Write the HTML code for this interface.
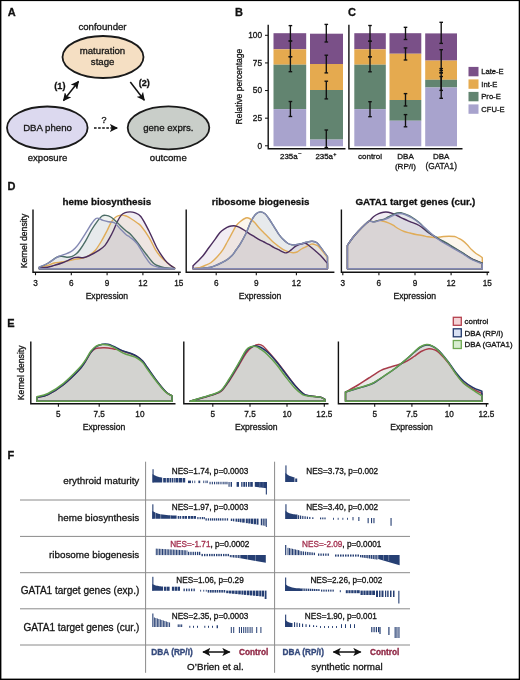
<!DOCTYPE html>
<html><head><meta charset="utf-8"><style>
html,body{margin:0;padding:0;background:#fff;}
svg{display:block;font-family:"Liberation Sans", sans-serif;filter:blur(0.3px);}
</style></head><body>
<svg width="520" height="680" viewBox="0 0 520 680">
<rect width="520" height="680" fill="#fff"/>
<rect x="0" y="0" width="1.4" height="680" fill="#000"/><rect x="0" y="0" width="520" height="1.1" fill="#000"/><rect x="518.7" y="0" width="1.3" height="680" fill="#000"/><rect x="0" y="678.6" width="520" height="1.4" fill="#000"/>
<text x="7.80" y="15.80" font-size="11" text-anchor="start" font-weight="bold" fill="#111" stroke="#111" stroke-width="0.3" >A</text>
<text x="102.50" y="29.80" font-size="9.65" text-anchor="middle" fill="#151515" stroke="#151515" stroke-width="0.3" >confounder</text>
<ellipse cx="103" cy="57" rx="40.5" ry="21" fill="#f5dfc3" stroke="#1a1a1a" stroke-width="1.8"/>
<text x="102.50" y="54.00" font-size="9.65" text-anchor="middle" fill="#151515" stroke="#151515" stroke-width="0.3" >maturation</text>
<text x="102.60" y="65.20" font-size="9.65" text-anchor="middle" fill="#151515" stroke="#151515" stroke-width="0.3" >stage</text>
<ellipse cx="47.3" cy="127.8" rx="40.3" ry="21.3" fill="#dcd9ef" stroke="#1a1a1a" stroke-width="1.8"/>
<text x="47.50" y="131.30" font-size="9.65" text-anchor="middle" fill="#151515" stroke="#151515" stroke-width="0.3" >DBA pheno</text>
<ellipse cx="168.5" cy="127.8" rx="40.8" ry="21.5" fill="#c9cec9" stroke="#1a1a1a" stroke-width="1.8"/>
<text x="168.30" y="131.30" font-size="9.65" text-anchor="middle" fill="#151515" stroke="#151515" stroke-width="0.3" >gene exprs.</text>
<text x="47.50" y="161.30" font-size="9.65" text-anchor="middle" fill="#151515" stroke="#151515" stroke-width="0.3" >exposure</text>
<text x="168.30" y="161.30" font-size="9.65" text-anchor="middle" fill="#151515" stroke="#151515" stroke-width="0.3" >outcome</text>
<text x="59.90" y="88.60" font-size="9.1" text-anchor="middle" font-weight="bold" fill="#111" stroke="#111" stroke-width="0.3" >(1)</text>
<text x="144.20" y="86.10" font-size="9.1" text-anchor="middle" font-weight="bold" fill="#111" stroke="#111" stroke-width="0.3" >(2)</text>
<text x="104.00" y="123.20" font-size="9" text-anchor="middle" fill="#151515" stroke="#151515" stroke-width="0.3" >?</text>
<defs><marker id="ah" viewBox="0 0 10 10" refX="9" refY="5" markerWidth="5.5" markerHeight="5.5" orient="auto-start-reverse"><path d="M0,0 L10,5 L0,10 L2.5,5 z" fill="#111"/></marker></defs>
<line x1="63.5" y1="100.5" x2="78.5" y2="81.5" stroke="#111" stroke-width="1.5" marker-start="url(#ah)" marker-end="url(#ah)"/>
<line x1="130.3" y1="82" x2="144.3" y2="100.2" stroke="#111" stroke-width="1.5" marker-end="url(#ah)"/>
<line x1="94" y1="128" x2="117.2" y2="128" stroke="#111" stroke-width="1.5" stroke-dasharray="2.6,1.5" marker-end="url(#ah)"/>
<text x="235.00" y="15.80" font-size="11" text-anchor="start" font-weight="bold" fill="#111" stroke="#111" stroke-width="0.3" >B</text>
<text x="348.10" y="15.90" font-size="11" text-anchor="start" font-weight="bold" fill="#111" stroke="#111" stroke-width="0.3" >C</text>
<text transform="translate(242.2,86.6) rotate(-90) scale(0.922,1)" font-size="9.25" text-anchor="middle" fill="#151515" stroke="#151515" stroke-width="0.3">Relative percentage</text>
<text x="262.00" y="148.65" font-size="8.3" text-anchor="end" fill="#151515" stroke="#151515" stroke-width="0.3" >0</text>
<line x1="265" y1="145.80" x2="268" y2="145.80" stroke="#111" stroke-width="1"/>
<text x="262.00" y="121.03" font-size="8.3" text-anchor="end" fill="#151515" stroke="#151515" stroke-width="0.3" >25</text>
<line x1="265" y1="118.18" x2="268" y2="118.18" stroke="#111" stroke-width="1"/>
<text x="262.00" y="93.40" font-size="8.3" text-anchor="end" fill="#151515" stroke="#151515" stroke-width="0.3" >50</text>
<line x1="265" y1="90.55" x2="268" y2="90.55" stroke="#111" stroke-width="1"/>
<text x="262.00" y="65.78" font-size="8.3" text-anchor="end" fill="#151515" stroke="#151515" stroke-width="0.3" >75</text>
<line x1="265" y1="62.93" x2="268" y2="62.93" stroke="#111" stroke-width="1"/>
<text x="262.00" y="38.15" font-size="8.3" text-anchor="end" fill="#151515" stroke="#151515" stroke-width="0.3" >100</text>
<line x1="265" y1="35.30" x2="268" y2="35.30" stroke="#111" stroke-width="1"/>
<rect x="273.5" y="33.2" width="32.70" height="16.10" fill="#7a5088"/>
<rect x="273.5" y="49.3" width="32.70" height="15.40" fill="#e5aa4f"/>
<rect x="273.5" y="64.7" width="32.70" height="44.40" fill="#628470"/>
<rect x="273.5" y="109.1" width="32.70" height="37.20" fill="#a8a3cd"/>
<rect x="310.0" y="33.7" width="33.00" height="30.30" fill="#7a5088"/>
<rect x="310.0" y="64.0" width="33.00" height="26.00" fill="#e5aa4f"/>
<rect x="310.0" y="90.0" width="33.00" height="49.60" fill="#628470"/>
<rect x="310.0" y="139.6" width="33.00" height="6.70" fill="#a8a3cd"/>
<rect x="354.3" y="33.2" width="31.50" height="16.10" fill="#7a5088"/>
<rect x="354.3" y="49.3" width="31.50" height="15.40" fill="#e5aa4f"/>
<rect x="354.3" y="64.7" width="31.50" height="44.40" fill="#628470"/>
<rect x="354.3" y="109.1" width="31.50" height="37.20" fill="#a8a3cd"/>
<rect x="389.5" y="33.2" width="31.80" height="20.55" fill="#7a5088"/>
<rect x="389.5" y="53.75" width="31.80" height="46.25" fill="#e5aa4f"/>
<rect x="389.5" y="100.0" width="31.80" height="20.75" fill="#628470"/>
<rect x="389.5" y="120.75" width="31.80" height="25.55" fill="#a8a3cd"/>
<rect x="425.2" y="33.4" width="31.80" height="27.20" fill="#7a5088"/>
<rect x="425.2" y="60.6" width="31.80" height="19.20" fill="#e5aa4f"/>
<rect x="425.2" y="79.8" width="31.80" height="7.70" fill="#628470"/>
<rect x="425.2" y="87.5" width="31.80" height="58.80" fill="#a8a3cd"/>
<path d="M268.2,24.8 V148.7 H345.5" fill="none" stroke="#111" stroke-width="1.4"/>
<path d="M348.9,24.8 V148.7 H462.5" fill="none" stroke="#111" stroke-width="1.4"/>
<line x1="290.4" y1="25.6" x2="290.4" y2="41.0" stroke="#111" stroke-width="1.35"/>
<line x1="288.59999999999997" y1="25.6" x2="292.2" y2="25.6" stroke="#111" stroke-width="1.35"/>
<line x1="288.59999999999997" y1="41.0" x2="292.2" y2="41.0" stroke="#111" stroke-width="1.35"/>
<line x1="290.4" y1="41.0" x2="290.4" y2="56.7" stroke="#111" stroke-width="1.35"/>
<line x1="288.59999999999997" y1="41.0" x2="292.2" y2="41.0" stroke="#111" stroke-width="1.35"/>
<line x1="288.59999999999997" y1="56.7" x2="292.2" y2="56.7" stroke="#111" stroke-width="1.35"/>
<line x1="290.4" y1="56.7" x2="290.4" y2="71.7" stroke="#111" stroke-width="1.35"/>
<line x1="288.59999999999997" y1="56.7" x2="292.2" y2="56.7" stroke="#111" stroke-width="1.35"/>
<line x1="288.59999999999997" y1="71.7" x2="292.2" y2="71.7" stroke="#111" stroke-width="1.35"/>
<line x1="290.4" y1="101.5" x2="290.4" y2="116.5" stroke="#111" stroke-width="1.35"/>
<line x1="288.59999999999997" y1="101.5" x2="292.2" y2="101.5" stroke="#111" stroke-width="1.35"/>
<line x1="288.59999999999997" y1="116.5" x2="292.2" y2="116.5" stroke="#111" stroke-width="1.35"/>
<line x1="326.3" y1="24.4" x2="326.3" y2="42.0" stroke="#111" stroke-width="1.35"/>
<line x1="324.5" y1="24.4" x2="328.1" y2="24.4" stroke="#111" stroke-width="1.35"/>
<line x1="324.5" y1="42.0" x2="328.1" y2="42.0" stroke="#111" stroke-width="1.35"/>
<line x1="326.3" y1="55.2" x2="326.3" y2="72.9" stroke="#111" stroke-width="1.35"/>
<line x1="324.5" y1="55.2" x2="328.1" y2="55.2" stroke="#111" stroke-width="1.35"/>
<line x1="324.5" y1="72.9" x2="328.1" y2="72.9" stroke="#111" stroke-width="1.35"/>
<line x1="326.3" y1="81.2" x2="326.3" y2="98.9" stroke="#111" stroke-width="1.35"/>
<line x1="324.5" y1="81.2" x2="328.1" y2="81.2" stroke="#111" stroke-width="1.35"/>
<line x1="324.5" y1="98.9" x2="328.1" y2="98.9" stroke="#111" stroke-width="1.35"/>
<line x1="326.3" y1="130.0" x2="326.3" y2="147.5" stroke="#111" stroke-width="1.35"/>
<line x1="324.5" y1="130.0" x2="328.1" y2="130.0" stroke="#111" stroke-width="1.35"/>
<line x1="324.5" y1="147.5" x2="328.1" y2="147.5" stroke="#111" stroke-width="1.35"/>
<line x1="370.0" y1="25.5" x2="370.0" y2="41.2" stroke="#111" stroke-width="1.35"/>
<line x1="368.2" y1="25.5" x2="371.8" y2="25.5" stroke="#111" stroke-width="1.35"/>
<line x1="368.2" y1="41.2" x2="371.8" y2="41.2" stroke="#111" stroke-width="1.35"/>
<line x1="370.0" y1="41.2" x2="370.0" y2="56.8" stroke="#111" stroke-width="1.35"/>
<line x1="368.2" y1="41.2" x2="371.8" y2="41.2" stroke="#111" stroke-width="1.35"/>
<line x1="368.2" y1="56.8" x2="371.8" y2="56.8" stroke="#111" stroke-width="1.35"/>
<line x1="370.0" y1="56.8" x2="370.0" y2="71.8" stroke="#111" stroke-width="1.35"/>
<line x1="368.2" y1="56.8" x2="371.8" y2="56.8" stroke="#111" stroke-width="1.35"/>
<line x1="368.2" y1="71.8" x2="371.8" y2="71.8" stroke="#111" stroke-width="1.35"/>
<line x1="370.0" y1="101.7" x2="370.0" y2="116.7" stroke="#111" stroke-width="1.35"/>
<line x1="368.2" y1="101.7" x2="371.8" y2="101.7" stroke="#111" stroke-width="1.35"/>
<line x1="368.2" y1="116.7" x2="371.8" y2="116.7" stroke="#111" stroke-width="1.35"/>
<line x1="405.5" y1="27.3" x2="405.5" y2="39.5" stroke="#111" stroke-width="1.35"/>
<line x1="403.7" y1="27.3" x2="407.3" y2="27.3" stroke="#111" stroke-width="1.35"/>
<line x1="403.7" y1="39.5" x2="407.3" y2="39.5" stroke="#111" stroke-width="1.35"/>
<line x1="405.5" y1="47.9" x2="405.5" y2="60.0" stroke="#111" stroke-width="1.35"/>
<line x1="403.7" y1="47.9" x2="407.3" y2="47.9" stroke="#111" stroke-width="1.35"/>
<line x1="403.7" y1="60.0" x2="407.3" y2="60.0" stroke="#111" stroke-width="1.35"/>
<line x1="405.5" y1="93.6" x2="405.5" y2="106.0" stroke="#111" stroke-width="1.35"/>
<line x1="403.7" y1="93.6" x2="407.3" y2="93.6" stroke="#111" stroke-width="1.35"/>
<line x1="403.7" y1="106.0" x2="407.3" y2="106.0" stroke="#111" stroke-width="1.35"/>
<line x1="405.5" y1="114.6" x2="405.5" y2="126.8" stroke="#111" stroke-width="1.35"/>
<line x1="403.7" y1="114.6" x2="407.3" y2="114.6" stroke="#111" stroke-width="1.35"/>
<line x1="403.7" y1="126.8" x2="407.3" y2="126.8" stroke="#111" stroke-width="1.35"/>
<line x1="441.2" y1="22.3" x2="441.2" y2="43.4" stroke="#111" stroke-width="1.35"/>
<line x1="439.4" y1="22.3" x2="443.0" y2="22.3" stroke="#111" stroke-width="1.35"/>
<line x1="439.4" y1="43.4" x2="443.0" y2="43.4" stroke="#111" stroke-width="1.35"/>
<line x1="441.2" y1="49.7" x2="441.2" y2="70.6" stroke="#111" stroke-width="1.35"/>
<line x1="439.4" y1="49.7" x2="443.0" y2="49.7" stroke="#111" stroke-width="1.35"/>
<line x1="439.4" y1="70.6" x2="443.0" y2="70.6" stroke="#111" stroke-width="1.35"/>
<line x1="441.2" y1="68.6" x2="441.2" y2="90.4" stroke="#111" stroke-width="1.35"/>
<line x1="439.4" y1="68.6" x2="443.0" y2="68.6" stroke="#111" stroke-width="1.35"/>
<line x1="439.4" y1="90.4" x2="443.0" y2="90.4" stroke="#111" stroke-width="1.35"/>
<line x1="441.2" y1="76.5" x2="441.2" y2="98.3" stroke="#111" stroke-width="1.35"/>
<line x1="439.4" y1="76.5" x2="443.0" y2="76.5" stroke="#111" stroke-width="1.35"/>
<line x1="439.4" y1="98.3" x2="443.0" y2="98.3" stroke="#111" stroke-width="1.35"/>
<line x1="441.2" y1="72.8" x2="441.2" y2="72.8" stroke="#111" stroke-width="1.35"/>
<line x1="439.4" y1="72.8" x2="443.0" y2="72.8" stroke="#111" stroke-width="1.35"/>
<line x1="439.4" y1="72.8" x2="443.0" y2="72.8" stroke="#111" stroke-width="1.35"/>
<text x="280.00" y="159.00" font-size="7.9" text-anchor="start" fill="#151515" stroke="#151515" stroke-width="0.3" >235a<tspan font-size="5.5" dx="0.6" dy="-3.6">–</tspan></text>
<text x="315.40" y="159.00" font-size="7.9" text-anchor="start" fill="#151515" stroke="#151515" stroke-width="0.3" >235a<tspan font-size="5.5" dx="0.4" dy="-3.3">+</tspan></text>
<text x="370.00" y="159.00" font-size="8.0" text-anchor="middle" fill="#151515" stroke="#151515" stroke-width="0.3" >control</text>
<text x="405.50" y="159.00" font-size="8.0" text-anchor="middle" fill="#151515" stroke="#151515" stroke-width="0.3" >DBA</text>
<text x="405.50" y="168.60" font-size="8.1" text-anchor="middle" fill="#151515" stroke="#151515" stroke-width="0.3" >(RP/I)</text>
<text x="441.20" y="159.00" font-size="8.0" text-anchor="middle" fill="#151515" stroke="#151515" stroke-width="0.3" >DBA</text>
<text x="441.20" y="168.60" font-size="8.3" text-anchor="middle" fill="#151515" stroke="#151515" stroke-width="0.3" >(GATA1)</text>
<rect x="468.5" y="66.9" width="10" height="9.4" fill="#7a5088"/>
<text x="481.30" y="74.20" font-size="7.6" text-anchor="start" fill="#151515" stroke="#151515" stroke-width="0.3" >Late-E</text>
<rect x="468.5" y="79.4" width="10" height="9.4" fill="#e5aa4f"/>
<text x="481.30" y="86.70" font-size="7.6" text-anchor="start" fill="#151515" stroke="#151515" stroke-width="0.3" >Int-E</text>
<rect x="468.5" y="91.9" width="10" height="9.4" fill="#628470"/>
<text x="481.30" y="99.20" font-size="7.6" text-anchor="start" fill="#151515" stroke="#151515" stroke-width="0.3" >Pro-E</text>
<rect x="468.5" y="104.4" width="10" height="9.4" fill="#a8a3cd"/>
<text x="481.30" y="111.70" font-size="7.6" text-anchor="start" fill="#151515" stroke="#151515" stroke-width="0.3" >CFU-E</text>
<text x="7.50" y="190.00" font-size="11" text-anchor="start" font-weight="bold" fill="#111" stroke="#111" stroke-width="0.3" >D</text>
<path d="M39.25,268.8 L39.25,267.50 C40.61,267.15 44.91,266.15 47.40,265.40 C49.89,264.65 51.80,263.57 54.20,263.00 C56.60,262.43 59.25,262.40 61.80,262.00 C64.35,261.60 67.08,261.08 69.50,260.60 C71.92,260.12 74.05,259.50 76.30,259.10 C78.55,258.70 80.78,258.88 83.00,258.20 C85.22,257.52 87.53,256.33 89.60,255.00 C91.67,253.67 93.47,252.45 95.40,250.20 C97.33,247.95 99.28,244.70 101.20,241.50 C103.12,238.30 105.15,234.37 106.90,231.00 C108.65,227.63 110.10,223.72 111.70,221.30 C113.30,218.88 114.90,217.53 116.50,216.50 C118.10,215.47 119.68,215.18 121.30,215.10 C122.92,215.02 124.75,215.52 126.20,216.00 C127.65,216.48 128.20,216.88 130.00,218.00 C131.80,219.12 135.17,221.37 137.00,222.70 C138.83,224.03 139.00,223.57 141.00,226.00 C143.00,228.43 146.60,233.37 149.00,237.30 C151.40,241.23 153.57,246.48 155.40,249.60 C157.23,252.72 158.47,254.20 160.00,256.00 C161.53,257.80 162.93,258.90 164.60,260.40 C166.27,261.90 168.33,263.77 170.00,265.00 C171.67,266.23 173.83,267.33 174.60,267.80 L174.6,268.8 Z" fill="#e5aa4f" fill-opacity="0.1" stroke="none"/>
<path d="M39.25,268.8 L39.25,268.00 C40.61,267.88 44.91,267.73 47.40,267.30 C49.89,266.87 51.80,266.12 54.20,265.40 C56.60,264.68 59.40,263.88 61.80,263.00 C64.20,262.12 66.52,260.98 68.60,260.10 C70.68,259.22 72.70,258.18 74.30,257.70 C75.90,257.22 76.75,257.20 78.20,257.20 C79.65,257.20 81.10,257.98 83.00,257.70 C84.90,257.42 86.90,256.75 89.60,255.50 C92.30,254.25 96.63,251.88 99.20,250.20 C101.77,248.52 103.23,247.48 105.00,245.40 C106.77,243.32 108.35,240.27 109.80,237.70 C111.25,235.13 112.42,232.73 113.70,230.00 C114.98,227.27 116.23,223.78 117.50,221.30 C118.77,218.82 120.02,216.53 121.30,215.10 C122.58,213.67 123.75,213.23 125.20,212.70 C126.65,212.17 128.43,211.90 130.00,211.90 C131.57,211.90 132.80,211.93 134.60,212.70 C136.40,213.47 138.40,213.45 140.80,216.50 C143.20,219.55 146.30,225.75 149.00,231.00 C151.70,236.25 154.40,243.23 157.00,248.00 C159.60,252.77 162.43,256.77 164.60,259.60 C166.77,262.43 168.33,263.60 170.00,265.00 C171.67,266.40 173.83,267.50 174.60,268.00 L174.6,268.8 Z" fill="#7a5088" fill-opacity="0.1" stroke="none"/>
<path d="M39.25,268.8 L39.25,267.30 C40.61,266.67 44.44,265.18 47.40,263.50 C50.36,261.82 54.60,258.41 57.00,257.20 C59.40,255.99 60.18,256.25 61.80,256.25 C63.42,256.25 65.08,257.12 66.70,257.20 C68.32,257.27 69.90,257.27 71.50,256.70 C73.10,256.13 74.87,255.00 76.30,253.80 C77.73,252.60 78.52,251.70 80.10,249.50 C81.68,247.30 83.90,243.85 85.80,240.60 C87.70,237.35 89.58,233.22 91.50,230.00 C93.42,226.78 95.53,223.63 97.30,221.30 C99.07,218.97 100.65,216.98 102.10,216.00 C103.55,215.02 104.55,215.23 106.00,215.40 C107.45,215.57 109.20,216.08 110.80,217.00 C112.40,217.92 114.00,219.45 115.60,220.90 C117.20,222.35 118.63,224.02 120.40,225.70 C122.17,227.38 124.60,229.65 126.20,231.00 C127.80,232.35 128.20,231.97 130.00,233.80 C131.80,235.63 134.33,238.63 137.00,242.00 C139.67,245.37 143.20,250.42 146.00,254.00 C148.80,257.58 151.47,261.42 153.80,263.50 C156.13,265.58 158.20,265.78 160.00,266.50 C161.80,267.22 162.17,267.47 164.60,267.80 C167.03,268.13 172.93,268.38 174.60,268.50 L174.6,268.8 Z" fill="#628470" fill-opacity="0.1" stroke="none"/>
<path d="M39.25,268.8 L39.25,267.00 C40.61,266.42 44.91,264.82 47.40,263.50 C49.89,262.18 52.27,260.31 54.20,259.10 C56.13,257.89 57.25,257.05 59.00,256.25 C60.75,255.45 62.78,255.03 64.70,254.30 C66.62,253.58 68.73,252.93 70.50,251.90 C72.27,250.87 73.70,249.78 75.30,248.10 C76.90,246.42 78.35,244.33 80.10,241.80 C81.85,239.27 83.90,235.91 85.80,232.90 C87.70,229.89 89.82,226.15 91.50,223.75 C93.18,221.35 94.62,219.38 95.90,218.50 C97.18,217.62 98.02,218.18 99.20,218.50 C100.38,218.82 101.40,219.85 103.00,220.40 C104.60,220.95 106.87,221.40 108.80,221.80 C110.73,222.20 112.67,221.60 114.60,222.80 C116.53,224.00 118.47,227.00 120.40,229.00 C122.33,231.00 124.60,233.43 126.20,234.80 C127.80,236.17 128.20,235.75 130.00,237.20 C131.80,238.65 134.57,240.40 137.00,243.50 C139.43,246.60 142.30,252.35 144.60,255.80 C146.90,259.25 148.48,262.28 150.80,264.20 C153.12,266.12 156.13,266.62 158.50,267.30 C160.87,267.98 162.32,268.08 165.00,268.30 C167.68,268.52 173.00,268.55 174.60,268.60 L174.6,268.8 Z" fill="#a8a3cd" fill-opacity="0.1" stroke="none"/>
<path d="M39.25,268.8 L39.25,267.50 C40.61,267.15 44.91,266.15 47.40,265.40 C49.89,264.65 51.80,263.57 54.20,263.00 C56.60,262.43 59.25,262.40 61.80,262.00 C64.35,261.60 67.08,261.08 69.50,260.60 C71.92,260.12 74.05,259.50 76.30,259.10 C78.55,258.70 80.78,258.88 83.00,258.20 C85.22,257.52 87.53,256.33 89.60,255.00 C91.67,253.67 93.47,252.45 95.40,250.20 C97.33,247.95 99.28,244.70 101.20,241.50 C103.12,238.30 105.15,234.37 106.90,231.00 C108.65,227.63 110.10,223.72 111.70,221.30 C113.30,218.88 114.90,217.53 116.50,216.50 C118.10,215.47 119.68,215.18 121.30,215.10 C122.92,215.02 124.75,215.52 126.20,216.00 C127.65,216.48 128.20,216.88 130.00,218.00 C131.80,219.12 135.17,221.37 137.00,222.70 C138.83,224.03 139.00,223.57 141.00,226.00 C143.00,228.43 146.60,233.37 149.00,237.30 C151.40,241.23 153.57,246.48 155.40,249.60 C157.23,252.72 158.47,254.20 160.00,256.00 C161.53,257.80 162.93,258.90 164.60,260.40 C166.27,261.90 168.33,263.77 170.00,265.00 C171.67,266.23 173.83,267.33 174.60,267.80 L174.6,268.8 Z" fill="none" stroke="#e0ac58" stroke-width="1.4" stroke-linejoin="round"/>
<path d="M39.25,268.8 L39.25,268.00 C40.61,267.88 44.91,267.73 47.40,267.30 C49.89,266.87 51.80,266.12 54.20,265.40 C56.60,264.68 59.40,263.88 61.80,263.00 C64.20,262.12 66.52,260.98 68.60,260.10 C70.68,259.22 72.70,258.18 74.30,257.70 C75.90,257.22 76.75,257.20 78.20,257.20 C79.65,257.20 81.10,257.98 83.00,257.70 C84.90,257.42 86.90,256.75 89.60,255.50 C92.30,254.25 96.63,251.88 99.20,250.20 C101.77,248.52 103.23,247.48 105.00,245.40 C106.77,243.32 108.35,240.27 109.80,237.70 C111.25,235.13 112.42,232.73 113.70,230.00 C114.98,227.27 116.23,223.78 117.50,221.30 C118.77,218.82 120.02,216.53 121.30,215.10 C122.58,213.67 123.75,213.23 125.20,212.70 C126.65,212.17 128.43,211.90 130.00,211.90 C131.57,211.90 132.80,211.93 134.60,212.70 C136.40,213.47 138.40,213.45 140.80,216.50 C143.20,219.55 146.30,225.75 149.00,231.00 C151.70,236.25 154.40,243.23 157.00,248.00 C159.60,252.77 162.43,256.77 164.60,259.60 C166.77,262.43 168.33,263.60 170.00,265.00 C171.67,266.40 173.83,267.50 174.60,268.00 L174.6,268.8 Z" fill="none" stroke="#4b2d5e" stroke-width="1.4" stroke-linejoin="round"/>
<path d="M39.25,268.8 L39.25,267.30 C40.61,266.67 44.44,265.18 47.40,263.50 C50.36,261.82 54.60,258.41 57.00,257.20 C59.40,255.99 60.18,256.25 61.80,256.25 C63.42,256.25 65.08,257.12 66.70,257.20 C68.32,257.27 69.90,257.27 71.50,256.70 C73.10,256.13 74.87,255.00 76.30,253.80 C77.73,252.60 78.52,251.70 80.10,249.50 C81.68,247.30 83.90,243.85 85.80,240.60 C87.70,237.35 89.58,233.22 91.50,230.00 C93.42,226.78 95.53,223.63 97.30,221.30 C99.07,218.97 100.65,216.98 102.10,216.00 C103.55,215.02 104.55,215.23 106.00,215.40 C107.45,215.57 109.20,216.08 110.80,217.00 C112.40,217.92 114.00,219.45 115.60,220.90 C117.20,222.35 118.63,224.02 120.40,225.70 C122.17,227.38 124.60,229.65 126.20,231.00 C127.80,232.35 128.20,231.97 130.00,233.80 C131.80,235.63 134.33,238.63 137.00,242.00 C139.67,245.37 143.20,250.42 146.00,254.00 C148.80,257.58 151.47,261.42 153.80,263.50 C156.13,265.58 158.20,265.78 160.00,266.50 C161.80,267.22 162.17,267.47 164.60,267.80 C167.03,268.13 172.93,268.38 174.60,268.50 L174.6,268.8 Z" fill="none" stroke="#4c6d66" stroke-width="1.4" stroke-linejoin="round"/>
<path d="M39.25,268.8 L39.25,267.00 C40.61,266.42 44.91,264.82 47.40,263.50 C49.89,262.18 52.27,260.31 54.20,259.10 C56.13,257.89 57.25,257.05 59.00,256.25 C60.75,255.45 62.78,255.03 64.70,254.30 C66.62,253.58 68.73,252.93 70.50,251.90 C72.27,250.87 73.70,249.78 75.30,248.10 C76.90,246.42 78.35,244.33 80.10,241.80 C81.85,239.27 83.90,235.91 85.80,232.90 C87.70,229.89 89.82,226.15 91.50,223.75 C93.18,221.35 94.62,219.38 95.90,218.50 C97.18,217.62 98.02,218.18 99.20,218.50 C100.38,218.82 101.40,219.85 103.00,220.40 C104.60,220.95 106.87,221.40 108.80,221.80 C110.73,222.20 112.67,221.60 114.60,222.80 C116.53,224.00 118.47,227.00 120.40,229.00 C122.33,231.00 124.60,233.43 126.20,234.80 C127.80,236.17 128.20,235.75 130.00,237.20 C131.80,238.65 134.57,240.40 137.00,243.50 C139.43,246.60 142.30,252.35 144.60,255.80 C146.90,259.25 148.48,262.28 150.80,264.20 C153.12,266.12 156.13,266.62 158.50,267.30 C160.87,267.98 162.32,268.08 165.00,268.30 C167.68,268.52 173.00,268.55 174.60,268.60 L174.6,268.8 Z" fill="none" stroke="#8489b3" stroke-width="1.4" stroke-linejoin="round"/>
<path d="M193,268.8 L200.00,268.30 C201.80,268.13 207.80,267.93 210.80,267.30 C213.80,266.67 215.47,265.65 218.00,264.50 C220.53,263.35 223.67,261.90 226.00,260.40 C228.33,258.90 230.33,257.23 232.00,255.50 C233.67,253.77 234.67,251.85 236.00,250.00 C237.33,248.15 238.37,247.10 240.00,244.40 C241.63,241.70 244.03,237.48 245.80,233.80 C247.57,230.12 249.00,225.50 250.60,222.30 C252.20,219.10 253.80,216.33 255.40,214.60 C257.00,212.87 258.60,212.05 260.20,211.90 C261.80,211.75 263.57,212.60 265.00,213.70 C266.43,214.80 267.35,216.42 268.80,218.50 C270.25,220.58 272.08,223.65 273.70,226.20 C275.32,228.75 276.90,231.57 278.50,233.80 C280.10,236.03 281.72,237.98 283.30,239.60 C284.88,241.22 286.55,242.63 288.00,243.50 C289.45,244.37 290.70,244.60 292.00,244.80 C293.30,245.00 294.22,244.88 295.80,244.70 C297.38,244.52 299.75,244.15 301.50,243.75 C303.25,243.35 304.53,242.71 306.30,242.30 C308.07,241.89 310.32,241.22 312.10,241.30 C313.88,241.38 315.40,241.58 317.00,242.80 C318.60,244.02 319.95,246.28 321.70,248.60 C323.45,250.92 326.53,255.35 327.50,256.70 L327.5,268.8 Z" fill="#628470" fill-opacity="0.1" stroke="none"/>
<path d="M193,268.8 L200.00,267.50 C200.83,267.17 203.20,266.30 205.00,265.50 C206.80,264.70 208.80,264.12 210.80,262.70 C212.80,261.28 214.97,259.18 217.00,257.00 C219.03,254.82 221.25,252.18 223.00,249.60 C224.75,247.02 225.95,244.32 227.50,241.50 C229.05,238.68 230.88,235.28 232.30,232.70 C233.72,230.12 234.72,227.82 236.00,226.00 C237.28,224.18 238.37,223.13 240.00,221.80 C241.63,220.47 244.20,218.55 245.80,218.00 C247.40,217.45 248.17,217.78 249.60,218.50 C251.03,219.22 252.80,220.72 254.40,222.30 C256.00,223.88 257.60,226.23 259.20,228.00 C260.80,229.77 262.40,231.28 264.00,232.90 C265.60,234.52 267.18,236.10 268.80,237.70 C270.42,239.30 272.08,241.07 273.70,242.50 C275.32,243.93 276.90,245.10 278.50,246.30 C280.10,247.50 281.72,248.82 283.30,249.70 C284.88,250.58 286.38,251.10 288.00,251.60 C289.62,252.10 291.50,252.63 293.00,252.70 C294.50,252.77 295.58,252.62 297.00,252.00 C298.42,251.38 299.78,249.97 301.50,249.00 C303.22,248.03 305.68,247.00 307.30,246.20 C308.92,245.40 310.08,244.52 311.20,244.20 C312.32,243.88 312.87,244.00 314.00,244.30 C315.13,244.60 316.67,244.97 318.00,246.00 C319.33,247.03 320.42,248.58 322.00,250.50 C323.58,252.42 326.58,256.33 327.50,257.50 L327.5,268.8 Z" fill="#e5aa4f" fill-opacity="0.1" stroke="none"/>
<path d="M193,268.8 L193.00,265.80 C193.83,265.00 196.33,262.67 198.00,261.00 C199.67,259.33 201.17,258.05 203.00,255.80 C204.83,253.55 206.93,250.33 209.00,247.50 C211.07,244.67 213.57,241.30 215.40,238.80 C217.23,236.30 218.47,234.17 220.00,232.50 C221.53,230.83 223.10,229.80 224.60,228.80 C226.10,227.80 227.47,227.00 229.00,226.50 C230.53,226.00 232.47,225.83 233.80,225.80 C235.13,225.77 235.97,226.00 237.00,226.30 C238.03,226.60 238.70,226.90 240.00,227.60 C241.30,228.30 243.20,229.47 244.80,230.50 C246.40,231.53 248.00,232.77 249.60,233.80 C251.20,234.83 252.80,235.73 254.40,236.70 C256.00,237.67 257.60,238.72 259.20,239.60 C260.80,240.48 262.40,241.20 264.00,242.00 C265.60,242.80 267.18,243.52 268.80,244.40 C270.42,245.28 272.08,246.42 273.70,247.30 C275.32,248.18 276.90,248.90 278.50,249.70 C280.10,250.50 281.97,251.58 283.30,252.10 C284.63,252.62 285.38,253.02 286.50,252.80 C287.62,252.58 288.45,251.90 290.00,250.80 C291.55,249.70 293.88,247.38 295.80,246.20 C297.72,245.02 299.90,244.23 301.50,243.75 C303.10,243.27 304.12,242.98 305.40,243.30 C306.68,243.62 307.60,244.50 309.20,245.70 C310.80,246.90 313.07,248.82 315.00,250.50 C316.93,252.18 318.72,253.63 320.80,255.80 C322.88,257.97 326.38,262.22 327.50,263.50 L327.5,268.8 Z" fill="#7a5088" fill-opacity="0.1" stroke="none"/>
<path d="M193,268.8 L200.00,268.30 C201.80,268.13 207.80,267.93 210.80,267.30 C213.80,266.67 215.47,265.65 218.00,264.50 C220.53,263.35 223.67,261.90 226.00,260.40 C228.33,258.90 230.33,257.23 232.00,255.50 C233.67,253.77 234.67,251.85 236.00,250.00 C237.33,248.15 238.37,247.10 240.00,244.40 C241.63,241.70 244.03,237.48 245.80,233.80 C247.57,230.12 249.00,225.50 250.60,222.30 C252.20,219.10 253.80,216.33 255.40,214.60 C257.00,212.87 258.60,212.05 260.20,211.90 C261.80,211.75 263.57,212.60 265.00,213.70 C266.43,214.80 267.35,216.42 268.80,218.50 C270.25,220.58 272.08,223.65 273.70,226.20 C275.32,228.75 276.90,231.57 278.50,233.80 C280.10,236.03 281.72,237.98 283.30,239.60 C284.88,241.22 286.55,242.63 288.00,243.50 C289.45,244.37 290.70,244.60 292.00,244.80 C293.30,245.00 294.22,244.88 295.80,244.70 C297.38,244.52 299.75,244.15 301.50,243.75 C303.25,243.35 304.53,242.71 306.30,242.30 C308.07,241.89 310.32,241.22 312.10,241.30 C313.88,241.38 315.40,241.58 317.00,242.80 C318.60,244.02 319.95,246.28 321.70,248.60 C323.45,250.92 326.53,255.35 327.50,256.70 L327.5,268.8 Z" fill="#a8a3cd" fill-opacity="0.1" stroke="none"/>
<path d="M193,268.8 L200.00,268.30 C201.80,268.13 207.80,267.93 210.80,267.30 C213.80,266.67 215.47,265.65 218.00,264.50 C220.53,263.35 223.67,261.90 226.00,260.40 C228.33,258.90 230.33,257.23 232.00,255.50 C233.67,253.77 234.67,251.85 236.00,250.00 C237.33,248.15 238.37,247.10 240.00,244.40 C241.63,241.70 244.03,237.48 245.80,233.80 C247.57,230.12 249.00,225.50 250.60,222.30 C252.20,219.10 253.80,216.33 255.40,214.60 C257.00,212.87 258.60,212.05 260.20,211.90 C261.80,211.75 263.57,212.60 265.00,213.70 C266.43,214.80 267.35,216.42 268.80,218.50 C270.25,220.58 272.08,223.65 273.70,226.20 C275.32,228.75 276.90,231.57 278.50,233.80 C280.10,236.03 281.72,237.98 283.30,239.60 C284.88,241.22 286.55,242.63 288.00,243.50 C289.45,244.37 290.70,244.60 292.00,244.80 C293.30,245.00 294.22,244.88 295.80,244.70 C297.38,244.52 299.75,244.15 301.50,243.75 C303.25,243.35 304.53,242.71 306.30,242.30 C308.07,241.89 310.32,241.22 312.10,241.30 C313.88,241.38 315.40,241.58 317.00,242.80 C318.60,244.02 319.95,246.28 321.70,248.60 C323.45,250.92 326.53,255.35 327.50,256.70 L327.5,268.8 Z" fill="none" stroke="#4c6d66" stroke-width="1.4" stroke-linejoin="round"/>
<path d="M193,268.8 L200.00,267.50 C200.83,267.17 203.20,266.30 205.00,265.50 C206.80,264.70 208.80,264.12 210.80,262.70 C212.80,261.28 214.97,259.18 217.00,257.00 C219.03,254.82 221.25,252.18 223.00,249.60 C224.75,247.02 225.95,244.32 227.50,241.50 C229.05,238.68 230.88,235.28 232.30,232.70 C233.72,230.12 234.72,227.82 236.00,226.00 C237.28,224.18 238.37,223.13 240.00,221.80 C241.63,220.47 244.20,218.55 245.80,218.00 C247.40,217.45 248.17,217.78 249.60,218.50 C251.03,219.22 252.80,220.72 254.40,222.30 C256.00,223.88 257.60,226.23 259.20,228.00 C260.80,229.77 262.40,231.28 264.00,232.90 C265.60,234.52 267.18,236.10 268.80,237.70 C270.42,239.30 272.08,241.07 273.70,242.50 C275.32,243.93 276.90,245.10 278.50,246.30 C280.10,247.50 281.72,248.82 283.30,249.70 C284.88,250.58 286.38,251.10 288.00,251.60 C289.62,252.10 291.50,252.63 293.00,252.70 C294.50,252.77 295.58,252.62 297.00,252.00 C298.42,251.38 299.78,249.97 301.50,249.00 C303.22,248.03 305.68,247.00 307.30,246.20 C308.92,245.40 310.08,244.52 311.20,244.20 C312.32,243.88 312.87,244.00 314.00,244.30 C315.13,244.60 316.67,244.97 318.00,246.00 C319.33,247.03 320.42,248.58 322.00,250.50 C323.58,252.42 326.58,256.33 327.50,257.50 L327.5,268.8 Z" fill="none" stroke="#e0ac58" stroke-width="1.4" stroke-linejoin="round"/>
<path d="M193,268.8 L193.00,265.80 C193.83,265.00 196.33,262.67 198.00,261.00 C199.67,259.33 201.17,258.05 203.00,255.80 C204.83,253.55 206.93,250.33 209.00,247.50 C211.07,244.67 213.57,241.30 215.40,238.80 C217.23,236.30 218.47,234.17 220.00,232.50 C221.53,230.83 223.10,229.80 224.60,228.80 C226.10,227.80 227.47,227.00 229.00,226.50 C230.53,226.00 232.47,225.83 233.80,225.80 C235.13,225.77 235.97,226.00 237.00,226.30 C238.03,226.60 238.70,226.90 240.00,227.60 C241.30,228.30 243.20,229.47 244.80,230.50 C246.40,231.53 248.00,232.77 249.60,233.80 C251.20,234.83 252.80,235.73 254.40,236.70 C256.00,237.67 257.60,238.72 259.20,239.60 C260.80,240.48 262.40,241.20 264.00,242.00 C265.60,242.80 267.18,243.52 268.80,244.40 C270.42,245.28 272.08,246.42 273.70,247.30 C275.32,248.18 276.90,248.90 278.50,249.70 C280.10,250.50 281.97,251.58 283.30,252.10 C284.63,252.62 285.38,253.02 286.50,252.80 C287.62,252.58 288.45,251.90 290.00,250.80 C291.55,249.70 293.88,247.38 295.80,246.20 C297.72,245.02 299.90,244.23 301.50,243.75 C303.10,243.27 304.12,242.98 305.40,243.30 C306.68,243.62 307.60,244.50 309.20,245.70 C310.80,246.90 313.07,248.82 315.00,250.50 C316.93,252.18 318.72,253.63 320.80,255.80 C322.88,257.97 326.38,262.22 327.50,263.50 L327.5,268.8 Z" fill="none" stroke="#4b2d5e" stroke-width="1.4" stroke-linejoin="round"/>
<path d="M193,268.8 L200.00,268.30 C201.80,268.13 207.80,267.93 210.80,267.30 C213.80,266.67 215.47,265.65 218.00,264.50 C220.53,263.35 223.67,261.90 226.00,260.40 C228.33,258.90 230.33,257.23 232.00,255.50 C233.67,253.77 234.67,251.85 236.00,250.00 C237.33,248.15 238.37,247.10 240.00,244.40 C241.63,241.70 244.03,237.48 245.80,233.80 C247.57,230.12 249.00,225.50 250.60,222.30 C252.20,219.10 253.80,216.33 255.40,214.60 C257.00,212.87 258.60,212.05 260.20,211.90 C261.80,211.75 263.57,212.60 265.00,213.70 C266.43,214.80 267.35,216.42 268.80,218.50 C270.25,220.58 272.08,223.65 273.70,226.20 C275.32,228.75 276.90,231.57 278.50,233.80 C280.10,236.03 281.72,237.98 283.30,239.60 C284.88,241.22 286.55,242.63 288.00,243.50 C289.45,244.37 290.70,244.60 292.00,244.80 C293.30,245.00 294.22,244.88 295.80,244.70 C297.38,244.52 299.75,244.15 301.50,243.75 C303.25,243.35 304.53,242.71 306.30,242.30 C308.07,241.89 310.32,241.22 312.10,241.30 C313.88,241.38 315.40,241.58 317.00,242.80 C318.60,244.02 319.95,246.28 321.70,248.60 C323.45,250.92 326.53,255.35 327.50,256.70 L327.5,268.8 Z" fill="none" stroke="#8489b3" stroke-width="1.4" stroke-linejoin="round"/>
<path d="M347.4,268.8 L347.40,245.40 C348.28,244.12 350.85,240.10 352.70,237.70 C354.55,235.30 356.58,233.08 358.50,231.00 C360.42,228.92 362.45,226.83 364.20,225.20 C365.95,223.57 367.40,221.77 369.00,221.20 C370.60,220.63 372.18,221.93 373.80,221.80 C375.42,221.67 377.08,220.48 378.70,220.40 C380.32,220.32 381.90,220.90 383.50,221.30 C385.10,221.70 386.70,222.15 388.30,222.80 C389.90,223.45 391.48,224.25 393.10,225.20 C394.72,226.15 396.15,227.45 398.00,228.50 C399.85,229.55 402.20,230.75 404.20,231.50 C406.20,232.25 408.03,232.50 410.00,233.00 C411.97,233.50 413.95,234.08 416.00,234.50 C418.05,234.92 420.30,235.12 422.30,235.50 C424.30,235.88 425.95,236.45 428.00,236.80 C430.05,237.15 432.60,237.57 434.60,237.60 C436.60,237.63 438.47,237.18 440.00,237.00 C441.53,236.82 442.30,236.63 443.80,236.50 C445.30,236.37 447.20,236.20 449.00,236.20 C450.80,236.20 453.10,236.20 454.60,236.50 C456.10,236.80 456.72,237.35 458.00,238.00 C459.28,238.65 460.80,239.32 462.30,240.40 C463.80,241.48 465.47,242.97 467.00,244.50 C468.53,246.03 470.00,248.10 471.50,249.60 C473.00,251.10 474.45,252.35 476.00,253.50 C477.55,254.65 479.75,255.78 480.80,256.50 C481.85,257.22 482.05,257.58 482.30,257.80 L482.3,268.8 Z" fill="#e5aa4f" fill-opacity="0.1" stroke="none"/>
<path d="M347.4,268.8 L347.40,245.40 C348.28,244.12 350.85,240.10 352.70,237.70 C354.55,235.30 356.58,233.08 358.50,231.00 C360.42,228.92 362.45,226.83 364.20,225.20 C365.95,223.57 367.40,222.65 369.00,221.20 C370.60,219.75 372.18,217.75 373.80,216.50 C375.42,215.25 377.08,214.42 378.70,213.70 C380.32,212.98 381.90,212.45 383.50,212.20 C385.10,211.95 386.70,211.95 388.30,212.20 C389.90,212.45 391.48,213.07 393.10,213.70 C394.72,214.33 396.18,215.12 398.00,216.00 C399.82,216.88 402.00,218.07 404.00,219.00 C406.00,219.93 407.47,220.52 410.00,221.60 C412.53,222.68 416.12,223.65 419.20,225.50 C422.28,227.35 425.42,230.53 428.50,232.70 C431.58,234.87 434.12,236.37 437.70,238.50 C441.28,240.63 445.90,243.08 450.00,245.50 C454.10,247.92 458.72,250.83 462.30,253.00 C465.88,255.17 468.17,256.80 471.50,258.50 C474.83,260.20 480.50,262.42 482.30,263.20 L482.3,268.8 Z" fill="#7a5088" fill-opacity="0.1" stroke="none"/>
<path d="M347.4,268.8 L347.40,245.40 C348.28,244.12 350.85,240.10 352.70,237.70 C354.55,235.30 356.58,233.08 358.50,231.00 C360.42,228.92 362.45,226.83 364.20,225.20 C365.95,223.57 367.40,221.77 369.00,221.20 C370.60,220.63 372.18,221.93 373.80,221.80 C375.42,221.67 377.08,220.80 378.70,220.40 C380.32,220.00 381.90,219.97 383.50,219.40 C385.10,218.83 386.70,217.80 388.30,217.00 C389.90,216.20 391.65,215.27 393.10,214.60 C394.55,213.93 395.68,213.32 397.00,213.00 C398.32,212.68 399.50,212.45 401.00,212.70 C402.50,212.95 404.50,213.95 406.00,214.50 C407.50,215.05 407.80,214.67 410.00,216.00 C412.20,217.33 416.12,219.83 419.20,222.50 C422.28,225.17 425.42,229.42 428.50,232.00 C431.58,234.58 434.12,235.83 437.70,238.00 C441.28,240.17 445.90,242.55 450.00,245.00 C454.10,247.45 458.72,250.40 462.30,252.70 C465.88,255.00 468.17,257.05 471.50,258.80 C474.83,260.55 480.50,262.47 482.30,263.20 L482.3,268.8 Z" fill="#628470" fill-opacity="0.1" stroke="none"/>
<path d="M347.4,268.8 L347.40,245.40 C348.28,244.12 350.85,240.10 352.70,237.70 C354.55,235.30 356.58,233.08 358.50,231.00 C360.42,228.92 362.45,226.83 364.20,225.20 C365.95,223.57 367.40,221.73 369.00,221.20 C370.60,220.67 372.18,222.07 373.80,222.00 C375.42,221.93 377.08,221.17 378.70,220.80 C380.32,220.43 381.90,220.27 383.50,219.80 C385.10,219.33 386.70,218.72 388.30,218.00 C389.90,217.28 391.22,216.25 393.10,215.50 C394.98,214.75 397.45,213.58 399.60,213.50 C401.75,213.42 403.93,214.25 406.00,215.00 C408.07,215.75 409.80,216.67 412.00,218.00 C414.20,219.33 416.45,220.83 419.20,223.00 C421.95,225.17 425.42,228.33 428.50,231.00 C431.58,233.67 434.12,236.42 437.70,239.00 C441.28,241.58 445.90,244.08 450.00,246.50 C454.10,248.92 458.72,251.33 462.30,253.50 C465.88,255.67 468.17,257.75 471.50,259.50 C474.83,261.25 480.50,263.25 482.30,264.00 L482.3,268.8 Z" fill="#a8a3cd" fill-opacity="0.1" stroke="none"/>
<path d="M347.4,268.8 L347.40,245.40 C348.28,244.12 350.85,240.10 352.70,237.70 C354.55,235.30 356.58,233.08 358.50,231.00 C360.42,228.92 362.45,226.83 364.20,225.20 C365.95,223.57 367.40,221.77 369.00,221.20 C370.60,220.63 372.18,221.93 373.80,221.80 C375.42,221.67 377.08,220.48 378.70,220.40 C380.32,220.32 381.90,220.90 383.50,221.30 C385.10,221.70 386.70,222.15 388.30,222.80 C389.90,223.45 391.48,224.25 393.10,225.20 C394.72,226.15 396.15,227.45 398.00,228.50 C399.85,229.55 402.20,230.75 404.20,231.50 C406.20,232.25 408.03,232.50 410.00,233.00 C411.97,233.50 413.95,234.08 416.00,234.50 C418.05,234.92 420.30,235.12 422.30,235.50 C424.30,235.88 425.95,236.45 428.00,236.80 C430.05,237.15 432.60,237.57 434.60,237.60 C436.60,237.63 438.47,237.18 440.00,237.00 C441.53,236.82 442.30,236.63 443.80,236.50 C445.30,236.37 447.20,236.20 449.00,236.20 C450.80,236.20 453.10,236.20 454.60,236.50 C456.10,236.80 456.72,237.35 458.00,238.00 C459.28,238.65 460.80,239.32 462.30,240.40 C463.80,241.48 465.47,242.97 467.00,244.50 C468.53,246.03 470.00,248.10 471.50,249.60 C473.00,251.10 474.45,252.35 476.00,253.50 C477.55,254.65 479.75,255.78 480.80,256.50 C481.85,257.22 482.05,257.58 482.30,257.80 L482.3,268.8 Z" fill="none" stroke="#e0ac58" stroke-width="1.4" stroke-linejoin="round"/>
<path d="M347.4,268.8 L347.40,245.40 C348.28,244.12 350.85,240.10 352.70,237.70 C354.55,235.30 356.58,233.08 358.50,231.00 C360.42,228.92 362.45,226.83 364.20,225.20 C365.95,223.57 367.40,222.65 369.00,221.20 C370.60,219.75 372.18,217.75 373.80,216.50 C375.42,215.25 377.08,214.42 378.70,213.70 C380.32,212.98 381.90,212.45 383.50,212.20 C385.10,211.95 386.70,211.95 388.30,212.20 C389.90,212.45 391.48,213.07 393.10,213.70 C394.72,214.33 396.18,215.12 398.00,216.00 C399.82,216.88 402.00,218.07 404.00,219.00 C406.00,219.93 407.47,220.52 410.00,221.60 C412.53,222.68 416.12,223.65 419.20,225.50 C422.28,227.35 425.42,230.53 428.50,232.70 C431.58,234.87 434.12,236.37 437.70,238.50 C441.28,240.63 445.90,243.08 450.00,245.50 C454.10,247.92 458.72,250.83 462.30,253.00 C465.88,255.17 468.17,256.80 471.50,258.50 C474.83,260.20 480.50,262.42 482.30,263.20 L482.3,268.8 Z" fill="none" stroke="#4b2d5e" stroke-width="1.4" stroke-linejoin="round"/>
<path d="M347.4,268.8 L347.40,245.40 C348.28,244.12 350.85,240.10 352.70,237.70 C354.55,235.30 356.58,233.08 358.50,231.00 C360.42,228.92 362.45,226.83 364.20,225.20 C365.95,223.57 367.40,221.77 369.00,221.20 C370.60,220.63 372.18,221.93 373.80,221.80 C375.42,221.67 377.08,220.80 378.70,220.40 C380.32,220.00 381.90,219.97 383.50,219.40 C385.10,218.83 386.70,217.80 388.30,217.00 C389.90,216.20 391.65,215.27 393.10,214.60 C394.55,213.93 395.68,213.32 397.00,213.00 C398.32,212.68 399.50,212.45 401.00,212.70 C402.50,212.95 404.50,213.95 406.00,214.50 C407.50,215.05 407.80,214.67 410.00,216.00 C412.20,217.33 416.12,219.83 419.20,222.50 C422.28,225.17 425.42,229.42 428.50,232.00 C431.58,234.58 434.12,235.83 437.70,238.00 C441.28,240.17 445.90,242.55 450.00,245.00 C454.10,247.45 458.72,250.40 462.30,252.70 C465.88,255.00 468.17,257.05 471.50,258.80 C474.83,260.55 480.50,262.47 482.30,263.20 L482.3,268.8 Z" fill="none" stroke="#4c6d66" stroke-width="1.4" stroke-linejoin="round"/>
<path d="M347.4,268.8 L347.40,245.40 C348.28,244.12 350.85,240.10 352.70,237.70 C354.55,235.30 356.58,233.08 358.50,231.00 C360.42,228.92 362.45,226.83 364.20,225.20 C365.95,223.57 367.40,221.73 369.00,221.20 C370.60,220.67 372.18,222.07 373.80,222.00 C375.42,221.93 377.08,221.17 378.70,220.80 C380.32,220.43 381.90,220.27 383.50,219.80 C385.10,219.33 386.70,218.72 388.30,218.00 C389.90,217.28 391.22,216.25 393.10,215.50 C394.98,214.75 397.45,213.58 399.60,213.50 C401.75,213.42 403.93,214.25 406.00,215.00 C408.07,215.75 409.80,216.67 412.00,218.00 C414.20,219.33 416.45,220.83 419.20,223.00 C421.95,225.17 425.42,228.33 428.50,231.00 C431.58,233.67 434.12,236.42 437.70,239.00 C441.28,241.58 445.90,244.08 450.00,246.50 C454.10,248.92 458.72,251.33 462.30,253.50 C465.88,255.67 468.17,257.75 471.50,259.50 C474.83,261.25 480.50,263.25 482.30,264.00 L482.3,268.8 Z" fill="none" stroke="#8489b3" stroke-width="1.4" stroke-linejoin="round"/>
<path d="M33,209.6 V272.2 H180.8" fill="none" stroke="#111" stroke-width="1.4"/>
<line x1="35.5" y1="272.2" x2="35.5" y2="275.2" stroke="#111" stroke-width="1.1"/>
<text x="35.50" y="285.50" font-size="8.2" text-anchor="middle" fill="#151515" stroke="#151515" stroke-width="0.3" >3</text>
<line x1="71.3" y1="272.2" x2="71.3" y2="275.2" stroke="#111" stroke-width="1.1"/>
<text x="71.30" y="285.50" font-size="8.2" text-anchor="middle" fill="#151515" stroke="#151515" stroke-width="0.3" >6</text>
<line x1="107.1" y1="272.2" x2="107.1" y2="275.2" stroke="#111" stroke-width="1.1"/>
<text x="107.10" y="285.50" font-size="8.2" text-anchor="middle" fill="#151515" stroke="#151515" stroke-width="0.3" >9</text>
<line x1="142.89999999999998" y1="272.2" x2="142.89999999999998" y2="275.2" stroke="#111" stroke-width="1.1"/>
<text x="142.90" y="285.50" font-size="8.2" text-anchor="middle" fill="#151515" stroke="#151515" stroke-width="0.3" >12</text>
<line x1="178.7" y1="272.2" x2="178.7" y2="275.2" stroke="#111" stroke-width="1.1"/>
<text x="178.70" y="285.50" font-size="8.2" text-anchor="middle" fill="#151515" stroke="#151515" stroke-width="0.3" >15</text>
<path d="M186.2,209.6 V272.2 H334.4" fill="none" stroke="#111" stroke-width="1.4"/>
<line x1="216.2" y1="272.2" x2="216.2" y2="275.2" stroke="#111" stroke-width="1.1"/>
<text x="216.20" y="285.50" font-size="8.2" text-anchor="middle" fill="#151515" stroke="#151515" stroke-width="0.3" >6</text>
<line x1="256.3" y1="272.2" x2="256.3" y2="275.2" stroke="#111" stroke-width="1.1"/>
<text x="256.30" y="285.50" font-size="8.2" text-anchor="middle" fill="#151515" stroke="#151515" stroke-width="0.3" >9</text>
<line x1="296.4" y1="272.2" x2="296.4" y2="275.2" stroke="#111" stroke-width="1.1"/>
<text x="296.40" y="285.50" font-size="8.2" text-anchor="middle" fill="#151515" stroke="#151515" stroke-width="0.3" >12</text>
<path d="M341.4,209.6 V272.2 H489.2" fill="none" stroke="#111" stroke-width="1.4"/>
<line x1="342.8" y1="272.2" x2="342.8" y2="275.2" stroke="#111" stroke-width="1.1"/>
<text x="342.80" y="285.50" font-size="8.2" text-anchor="middle" fill="#151515" stroke="#151515" stroke-width="0.3" >3</text>
<line x1="378.90000000000003" y1="272.2" x2="378.90000000000003" y2="275.2" stroke="#111" stroke-width="1.1"/>
<text x="378.90" y="285.50" font-size="8.2" text-anchor="middle" fill="#151515" stroke="#151515" stroke-width="0.3" >6</text>
<line x1="415.0" y1="272.2" x2="415.0" y2="275.2" stroke="#111" stroke-width="1.1"/>
<text x="415.00" y="285.50" font-size="8.2" text-anchor="middle" fill="#151515" stroke="#151515" stroke-width="0.3" >9</text>
<line x1="451.1" y1="272.2" x2="451.1" y2="275.2" stroke="#111" stroke-width="1.1"/>
<text x="451.10" y="285.50" font-size="8.2" text-anchor="middle" fill="#151515" stroke="#151515" stroke-width="0.3" >12</text>
<line x1="487.20000000000005" y1="272.2" x2="487.20000000000005" y2="275.2" stroke="#111" stroke-width="1.1"/>
<text x="487.20" y="285.50" font-size="8.2" text-anchor="middle" fill="#151515" stroke="#151515" stroke-width="0.3" >15</text>
<text x="106.90" y="298.80" font-size="8.6" text-anchor="middle" fill="#151515" stroke="#151515" stroke-width="0.3" >Expression</text>
<text x="260.00" y="298.80" font-size="8.6" text-anchor="middle" fill="#151515" stroke="#151515" stroke-width="0.3" >Expression</text>
<text x="414.80" y="298.80" font-size="8.6" text-anchor="middle" fill="#151515" stroke="#151515" stroke-width="0.3" >Expression</text>
<text x="106.90" y="204.50" font-size="9.85" text-anchor="middle" font-weight="bold" fill="#111" stroke="#111" stroke-width="0.3" >heme biosynthesis</text>
<text x="260.60" y="204.50" font-size="9.75" text-anchor="middle" font-weight="bold" fill="#111" stroke="#111" stroke-width="0.3" >ribosome biogenesis</text>
<text x="415.40" y="204.50" font-size="9.85" text-anchor="middle" font-weight="bold" fill="#111" stroke="#111" stroke-width="0.3" >GATA1 target genes (cur.)</text>
<text transform="translate(26.7,241) rotate(-90)" font-size="8.65" text-anchor="middle" fill="#151515" stroke="#151515" stroke-width="0.3">Kernel density</text>
<text x="7.30" y="327.00" font-size="11" text-anchor="start" font-weight="bold" fill="#111" stroke="#111" stroke-width="0.3" >E</text>
<path d="M37,401.2 L37.00,397.30 C38.83,396.83 43.58,396.62 48.00,394.50 C52.42,392.38 58.37,388.65 63.50,384.60 C68.63,380.55 75.22,373.97 78.80,370.20 C82.38,366.43 83.00,364.93 85.00,362.00 C87.00,359.07 89.05,354.83 90.80,352.60 C92.55,350.37 93.97,349.38 95.50,348.60 C97.03,347.82 98.58,348.03 100.00,347.90 C101.42,347.77 102.65,347.78 104.00,347.80 C105.35,347.82 106.47,347.80 108.10,348.00 C109.73,348.20 111.88,348.67 113.80,349.00 C115.72,349.33 117.67,349.50 119.60,350.00 C121.53,350.50 123.48,351.37 125.40,352.00 C127.32,352.63 129.18,353.05 131.10,353.80 C133.02,354.55 134.97,355.27 136.90,356.50 C138.83,357.73 140.97,359.32 142.70,361.20 C144.43,363.08 145.00,364.53 147.30,367.80 C149.60,371.07 153.42,376.78 156.50,380.80 C159.58,384.82 163.22,389.40 165.80,391.90 C168.38,394.40 170.97,395.15 172.00,395.80 L172,401.2 Z" fill="#c6c4c0" fill-opacity="0.36" stroke="none"/>
<path d="M37,401.2 L37.00,397.30 C38.83,396.83 43.58,396.62 48.00,394.50 C52.42,392.38 58.37,388.65 63.50,384.60 C68.63,380.55 75.22,373.97 78.80,370.20 C82.38,366.43 83.00,364.98 85.00,362.00 C87.00,359.02 88.88,354.88 90.80,352.30 C92.72,349.72 94.58,347.85 96.50,346.50 C98.42,345.15 100.37,344.58 102.30,344.20 C104.23,343.82 106.18,343.82 108.10,344.20 C110.02,344.58 111.88,345.63 113.80,346.50 C115.72,347.37 117.67,348.53 119.60,349.40 C121.53,350.27 123.48,351.02 125.40,351.70 C127.32,352.38 129.18,352.73 131.10,353.50 C133.02,354.27 134.97,355.05 136.90,356.30 C138.83,357.55 140.97,359.13 142.70,361.00 C144.43,362.87 145.00,364.25 147.30,367.50 C149.60,370.75 153.42,376.45 156.50,380.50 C159.58,384.55 163.22,389.25 165.80,391.80 C168.38,394.35 170.97,395.13 172.00,395.80 L172,401.2 Z" fill="#c6c4c0" fill-opacity="0.36" stroke="none"/>
<path d="M37,401.2 L37.00,396.80 C38.83,396.25 43.58,395.75 48.00,393.50 C52.42,391.25 58.37,387.45 63.50,383.30 C68.63,379.15 75.22,372.37 78.80,368.60 C82.38,364.83 83.00,363.58 85.00,360.70 C87.00,357.82 88.88,353.77 90.80,351.30 C92.72,348.83 94.58,347.03 96.50,345.90 C98.42,344.77 100.37,344.65 102.30,344.50 C104.23,344.35 106.18,344.52 108.10,345.00 C110.02,345.48 111.88,346.38 113.80,347.40 C115.72,348.42 117.67,350.00 119.60,351.10 C121.53,352.20 123.48,353.22 125.40,354.00 C127.32,354.78 129.18,355.13 131.10,355.80 C133.02,356.47 134.97,356.88 136.90,358.00 C138.83,359.12 140.97,360.67 142.70,362.50 C144.43,364.33 145.00,365.83 147.30,369.00 C149.60,372.17 153.42,377.62 156.50,381.50 C159.58,385.38 163.22,389.92 165.80,392.30 C168.38,394.68 170.97,395.22 172.00,395.80 L172,401.2 Z" fill="#c6c4c0" fill-opacity="0.36" stroke="none"/>
<path d="M37,401.2 L37.00,397.30 C38.83,396.83 43.58,396.62 48.00,394.50 C52.42,392.38 58.37,388.65 63.50,384.60 C68.63,380.55 75.22,373.97 78.80,370.20 C82.38,366.43 83.00,364.93 85.00,362.00 C87.00,359.07 89.05,354.83 90.80,352.60 C92.55,350.37 93.97,349.38 95.50,348.60 C97.03,347.82 98.58,348.03 100.00,347.90 C101.42,347.77 102.65,347.78 104.00,347.80 C105.35,347.82 106.47,347.80 108.10,348.00 C109.73,348.20 111.88,348.67 113.80,349.00 C115.72,349.33 117.67,349.50 119.60,350.00 C121.53,350.50 123.48,351.37 125.40,352.00 C127.32,352.63 129.18,353.05 131.10,353.80 C133.02,354.55 134.97,355.27 136.90,356.50 C138.83,357.73 140.97,359.32 142.70,361.20 C144.43,363.08 145.00,364.53 147.30,367.80 C149.60,371.07 153.42,376.78 156.50,380.80 C159.58,384.82 163.22,389.40 165.80,391.90 C168.38,394.40 170.97,395.15 172.00,395.80 L172,401.2 Z" fill="none" stroke="#a83c4a" stroke-width="1.5" stroke-linejoin="round"/>
<path d="M37,401.2 L37.00,397.30 C38.83,396.83 43.58,396.62 48.00,394.50 C52.42,392.38 58.37,388.65 63.50,384.60 C68.63,380.55 75.22,373.97 78.80,370.20 C82.38,366.43 83.00,364.98 85.00,362.00 C87.00,359.02 88.88,354.88 90.80,352.30 C92.72,349.72 94.58,347.85 96.50,346.50 C98.42,345.15 100.37,344.58 102.30,344.20 C104.23,343.82 106.18,343.82 108.10,344.20 C110.02,344.58 111.88,345.63 113.80,346.50 C115.72,347.37 117.67,348.53 119.60,349.40 C121.53,350.27 123.48,351.02 125.40,351.70 C127.32,352.38 129.18,352.73 131.10,353.50 C133.02,354.27 134.97,355.05 136.90,356.30 C138.83,357.55 140.97,359.13 142.70,361.00 C144.43,362.87 145.00,364.25 147.30,367.50 C149.60,370.75 153.42,376.45 156.50,380.50 C159.58,384.55 163.22,389.25 165.80,391.80 C168.38,394.35 170.97,395.13 172.00,395.80 L172,401.2 Z" fill="none" stroke="#22386a" stroke-width="1.5" stroke-linejoin="round"/>
<path d="M37,401.2 L37.00,396.80 C38.83,396.25 43.58,395.75 48.00,393.50 C52.42,391.25 58.37,387.45 63.50,383.30 C68.63,379.15 75.22,372.37 78.80,368.60 C82.38,364.83 83.00,363.58 85.00,360.70 C87.00,357.82 88.88,353.77 90.80,351.30 C92.72,348.83 94.58,347.03 96.50,345.90 C98.42,344.77 100.37,344.65 102.30,344.50 C104.23,344.35 106.18,344.52 108.10,345.00 C110.02,345.48 111.88,346.38 113.80,347.40 C115.72,348.42 117.67,350.00 119.60,351.10 C121.53,352.20 123.48,353.22 125.40,354.00 C127.32,354.78 129.18,355.13 131.10,355.80 C133.02,356.47 134.97,356.88 136.90,358.00 C138.83,359.12 140.97,360.67 142.70,362.50 C144.43,364.33 145.00,365.83 147.30,369.00 C149.60,372.17 153.42,377.62 156.50,381.50 C159.58,385.38 163.22,389.92 165.80,392.30 C168.38,394.68 170.97,395.22 172.00,395.80 L172,401.2 Z" fill="none" stroke="#62a04c" stroke-width="1.5" stroke-linejoin="round"/>
<path d="M190,401.2 L203.00,397.80 C204.80,397.27 210.72,395.73 213.80,394.60 C216.88,393.47 218.93,393.27 221.50,391.00 C224.07,388.73 226.37,385.17 229.20,381.00 C232.03,376.83 235.67,370.67 238.50,366.00 C241.33,361.33 243.90,356.17 246.20,353.00 C248.50,349.83 250.25,348.42 252.30,347.00 C254.35,345.58 256.72,344.67 258.50,344.50 C260.28,344.33 261.33,344.75 263.00,346.00 C264.67,347.25 266.05,349.22 268.50,352.00 C270.95,354.78 274.62,358.87 277.70,362.70 C280.78,366.53 283.95,371.03 287.00,375.00 C290.05,378.97 293.20,383.33 296.00,386.50 C298.80,389.67 301.63,392.45 303.80,394.00 C305.97,395.55 307.20,395.38 309.00,395.80 C310.80,396.22 312.63,396.25 314.60,396.50 C316.57,396.75 319.07,396.82 320.80,397.30 C322.53,397.78 324.30,399.05 325.00,399.40 L325,401.2 Z" fill="#c6c4c0" fill-opacity="0.36" stroke="none"/>
<path d="M190,401.2 L203.00,397.50 C204.80,396.97 210.72,395.47 213.80,394.30 C216.88,393.13 218.93,392.88 221.50,390.50 C224.07,388.12 226.37,384.33 229.20,380.00 C232.03,375.67 235.67,369.33 238.50,364.50 C241.33,359.67 244.03,353.92 246.20,351.00 C248.37,348.08 249.87,347.83 251.50,347.00 C253.13,346.17 254.42,345.92 256.00,346.00 C257.58,346.08 258.92,346.33 261.00,347.50 C263.08,348.67 265.72,350.37 268.50,353.00 C271.28,355.63 274.62,359.55 277.70,363.30 C280.78,367.05 283.95,371.58 287.00,375.50 C290.05,379.42 293.20,383.68 296.00,386.80 C298.80,389.92 301.63,392.70 303.80,394.20 C305.97,395.70 307.20,395.42 309.00,395.80 C310.80,396.18 312.63,396.25 314.60,396.50 C316.57,396.75 319.07,396.82 320.80,397.30 C322.53,397.78 324.30,399.05 325.00,399.40 L325,401.2 Z" fill="#c6c4c0" fill-opacity="0.36" stroke="none"/>
<path d="M190,401.2 L203.00,397.30 C204.80,396.75 210.72,395.22 213.80,394.00 C216.88,392.78 218.93,392.50 221.50,390.00 C224.07,387.50 226.37,383.42 229.20,379.00 C232.03,374.58 235.67,368.33 238.50,363.50 C241.33,358.67 244.12,352.78 246.20,350.00 C248.28,347.22 249.37,347.37 251.00,346.80 C252.63,346.23 254.33,346.15 256.00,346.60 C257.67,347.05 259.12,348.18 261.00,349.50 C262.88,350.82 264.72,352.00 267.30,354.50 C269.88,357.00 273.42,360.75 276.50,364.50 C279.58,368.25 282.75,373.08 285.80,377.00 C288.85,380.92 292.00,385.07 294.80,388.00 C297.60,390.93 300.40,393.27 302.60,394.60 C304.80,395.93 306.00,395.67 308.00,396.00 C310.00,396.33 312.47,396.37 314.60,396.60 C316.73,396.83 319.07,396.90 320.80,397.40 C322.53,397.90 324.30,399.23 325.00,399.60 L325,401.2 Z" fill="#c6c4c0" fill-opacity="0.36" stroke="none"/>
<path d="M190,401.2 L203.00,397.80 C204.80,397.27 210.72,395.73 213.80,394.60 C216.88,393.47 218.93,393.27 221.50,391.00 C224.07,388.73 226.37,385.17 229.20,381.00 C232.03,376.83 235.67,370.67 238.50,366.00 C241.33,361.33 243.90,356.17 246.20,353.00 C248.50,349.83 250.25,348.42 252.30,347.00 C254.35,345.58 256.72,344.67 258.50,344.50 C260.28,344.33 261.33,344.75 263.00,346.00 C264.67,347.25 266.05,349.22 268.50,352.00 C270.95,354.78 274.62,358.87 277.70,362.70 C280.78,366.53 283.95,371.03 287.00,375.00 C290.05,378.97 293.20,383.33 296.00,386.50 C298.80,389.67 301.63,392.45 303.80,394.00 C305.97,395.55 307.20,395.38 309.00,395.80 C310.80,396.22 312.63,396.25 314.60,396.50 C316.57,396.75 319.07,396.82 320.80,397.30 C322.53,397.78 324.30,399.05 325.00,399.40 L325,401.2 Z" fill="none" stroke="#a83c4a" stroke-width="1.5" stroke-linejoin="round"/>
<path d="M190,401.2 L203.00,397.50 C204.80,396.97 210.72,395.47 213.80,394.30 C216.88,393.13 218.93,392.88 221.50,390.50 C224.07,388.12 226.37,384.33 229.20,380.00 C232.03,375.67 235.67,369.33 238.50,364.50 C241.33,359.67 244.03,353.92 246.20,351.00 C248.37,348.08 249.87,347.83 251.50,347.00 C253.13,346.17 254.42,345.92 256.00,346.00 C257.58,346.08 258.92,346.33 261.00,347.50 C263.08,348.67 265.72,350.37 268.50,353.00 C271.28,355.63 274.62,359.55 277.70,363.30 C280.78,367.05 283.95,371.58 287.00,375.50 C290.05,379.42 293.20,383.68 296.00,386.80 C298.80,389.92 301.63,392.70 303.80,394.20 C305.97,395.70 307.20,395.42 309.00,395.80 C310.80,396.18 312.63,396.25 314.60,396.50 C316.57,396.75 319.07,396.82 320.80,397.30 C322.53,397.78 324.30,399.05 325.00,399.40 L325,401.2 Z" fill="none" stroke="#22386a" stroke-width="1.5" stroke-linejoin="round"/>
<path d="M190,401.2 L203.00,397.30 C204.80,396.75 210.72,395.22 213.80,394.00 C216.88,392.78 218.93,392.50 221.50,390.00 C224.07,387.50 226.37,383.42 229.20,379.00 C232.03,374.58 235.67,368.33 238.50,363.50 C241.33,358.67 244.12,352.78 246.20,350.00 C248.28,347.22 249.37,347.37 251.00,346.80 C252.63,346.23 254.33,346.15 256.00,346.60 C257.67,347.05 259.12,348.18 261.00,349.50 C262.88,350.82 264.72,352.00 267.30,354.50 C269.88,357.00 273.42,360.75 276.50,364.50 C279.58,368.25 282.75,373.08 285.80,377.00 C288.85,380.92 292.00,385.07 294.80,388.00 C297.60,390.93 300.40,393.27 302.60,394.60 C304.80,395.93 306.00,395.67 308.00,396.00 C310.00,396.33 312.47,396.37 314.60,396.60 C316.73,396.83 319.07,396.90 320.80,397.40 C322.53,397.90 324.30,399.23 325.00,399.60 L325,401.2 Z" fill="none" stroke="#62a04c" stroke-width="1.5" stroke-linejoin="round"/>
<path d="M345.5,401.2 L345.50,392.00 C347.58,390.83 354.12,387.33 358.00,385.00 C361.88,382.67 364.97,380.43 368.80,378.00 C372.63,375.57 377.92,372.07 381.00,370.40 C384.08,368.73 385.30,368.68 387.30,368.00 C389.30,367.32 390.95,366.93 393.00,366.30 C395.05,365.67 397.22,365.12 399.60,364.20 C401.98,363.28 404.90,362.08 407.30,360.80 C409.70,359.52 411.72,358.05 414.00,356.50 C416.28,354.95 418.53,352.80 421.00,351.50 C423.47,350.20 426.47,348.95 428.80,348.70 C431.13,348.45 433.33,349.37 435.00,350.00 C436.67,350.63 436.63,350.42 438.80,352.50 C440.97,354.58 445.17,359.00 448.00,362.50 C450.83,366.00 453.22,370.13 455.80,373.50 C458.38,376.87 460.68,380.15 463.50,382.70 C466.32,385.25 469.63,387.00 472.70,388.80 C475.77,390.60 480.37,392.72 481.90,393.50 L481.9,401.2 Z" fill="#c6c4c0" fill-opacity="0.36" stroke="none"/>
<path d="M345.5,401.2 L345.50,392.00 C347.58,391.38 353.58,389.67 358.00,388.30 C362.42,386.93 367.63,385.85 372.00,383.80 C376.37,381.75 380.12,378.72 384.20,376.00 C388.28,373.28 392.90,370.20 396.50,367.50 C400.10,364.80 402.85,362.33 405.80,359.80 C408.75,357.27 411.83,354.35 414.20,352.30 C416.57,350.25 417.95,348.72 420.00,347.50 C422.05,346.28 424.50,345.25 426.50,345.00 C428.50,344.75 429.95,345.08 432.00,346.00 C434.05,346.92 436.13,347.92 438.80,350.50 C441.47,353.08 445.17,357.83 448.00,361.50 C450.83,365.17 453.22,369.25 455.80,372.50 C458.38,375.75 460.68,378.53 463.50,381.00 C466.32,383.47 469.63,385.60 472.70,387.30 C475.77,389.00 480.37,390.55 481.90,391.20 L481.9,401.2 Z" fill="#c6c4c0" fill-opacity="0.36" stroke="none"/>
<path d="M345.5,401.2 L345.50,392.00 C347.58,391.33 353.58,389.42 358.00,388.00 C362.42,386.58 367.63,385.53 372.00,383.50 C376.37,381.47 380.12,378.50 384.20,375.80 C388.28,373.10 392.90,370.00 396.50,367.30 C400.10,364.60 402.85,362.15 405.80,359.60 C408.75,357.05 411.83,354.10 414.20,352.00 C416.57,349.90 417.95,348.25 420.00,347.00 C422.05,345.75 424.50,344.70 426.50,344.50 C428.50,344.30 429.95,344.72 432.00,345.80 C434.05,346.88 436.13,348.30 438.80,351.00 C441.47,353.70 445.17,358.20 448.00,362.00 C450.83,365.80 453.22,370.25 455.80,373.80 C458.38,377.35 460.68,380.63 463.50,383.30 C466.32,385.97 469.63,387.72 472.70,389.80 C475.77,391.88 480.37,394.80 481.90,395.80 L481.9,401.2 Z" fill="#c6c4c0" fill-opacity="0.36" stroke="none"/>
<path d="M345.5,401.2 L345.50,392.00 C347.58,390.83 354.12,387.33 358.00,385.00 C361.88,382.67 364.97,380.43 368.80,378.00 C372.63,375.57 377.92,372.07 381.00,370.40 C384.08,368.73 385.30,368.68 387.30,368.00 C389.30,367.32 390.95,366.93 393.00,366.30 C395.05,365.67 397.22,365.12 399.60,364.20 C401.98,363.28 404.90,362.08 407.30,360.80 C409.70,359.52 411.72,358.05 414.00,356.50 C416.28,354.95 418.53,352.80 421.00,351.50 C423.47,350.20 426.47,348.95 428.80,348.70 C431.13,348.45 433.33,349.37 435.00,350.00 C436.67,350.63 436.63,350.42 438.80,352.50 C440.97,354.58 445.17,359.00 448.00,362.50 C450.83,366.00 453.22,370.13 455.80,373.50 C458.38,376.87 460.68,380.15 463.50,382.70 C466.32,385.25 469.63,387.00 472.70,388.80 C475.77,390.60 480.37,392.72 481.90,393.50 L481.9,401.2 Z" fill="none" stroke="#a83c4a" stroke-width="1.5" stroke-linejoin="round"/>
<path d="M345.5,401.2 L345.50,392.00 C347.58,391.38 353.58,389.67 358.00,388.30 C362.42,386.93 367.63,385.85 372.00,383.80 C376.37,381.75 380.12,378.72 384.20,376.00 C388.28,373.28 392.90,370.20 396.50,367.50 C400.10,364.80 402.85,362.33 405.80,359.80 C408.75,357.27 411.83,354.35 414.20,352.30 C416.57,350.25 417.95,348.72 420.00,347.50 C422.05,346.28 424.50,345.25 426.50,345.00 C428.50,344.75 429.95,345.08 432.00,346.00 C434.05,346.92 436.13,347.92 438.80,350.50 C441.47,353.08 445.17,357.83 448.00,361.50 C450.83,365.17 453.22,369.25 455.80,372.50 C458.38,375.75 460.68,378.53 463.50,381.00 C466.32,383.47 469.63,385.60 472.70,387.30 C475.77,389.00 480.37,390.55 481.90,391.20 L481.9,401.2 Z" fill="none" stroke="#22386a" stroke-width="1.5" stroke-linejoin="round"/>
<path d="M345.5,401.2 L345.50,392.00 C347.58,391.33 353.58,389.42 358.00,388.00 C362.42,386.58 367.63,385.53 372.00,383.50 C376.37,381.47 380.12,378.50 384.20,375.80 C388.28,373.10 392.90,370.00 396.50,367.30 C400.10,364.60 402.85,362.15 405.80,359.60 C408.75,357.05 411.83,354.10 414.20,352.00 C416.57,349.90 417.95,348.25 420.00,347.00 C422.05,345.75 424.50,344.70 426.50,344.50 C428.50,344.30 429.95,344.72 432.00,345.80 C434.05,346.88 436.13,348.30 438.80,351.00 C441.47,353.70 445.17,358.20 448.00,362.00 C450.83,365.80 453.22,370.25 455.80,373.80 C458.38,377.35 460.68,380.63 463.50,383.30 C466.32,385.97 469.63,387.72 472.70,389.80 C475.77,391.88 480.37,394.80 481.90,395.80 L481.9,401.2 Z" fill="none" stroke="#62a04c" stroke-width="1.5" stroke-linejoin="round"/>
<path d="M30.8,341.5 V403.8 H175.5" fill="none" stroke="#111" stroke-width="1.4"/>
<line x1="58.4" y1="403.8" x2="58.4" y2="406.8" stroke="#111" stroke-width="1.1"/>
<text x="58.40" y="417.10" font-size="8.2" text-anchor="middle" fill="#151515" stroke="#151515" stroke-width="0.3" >5</text>
<line x1="99.2" y1="403.8" x2="99.2" y2="406.8" stroke="#111" stroke-width="1.1"/>
<text x="99.20" y="417.10" font-size="8.2" text-anchor="middle" fill="#151515" stroke="#151515" stroke-width="0.3" >7.5</text>
<line x1="139.9" y1="403.8" x2="139.9" y2="406.8" stroke="#111" stroke-width="1.1"/>
<text x="139.90" y="417.10" font-size="8.2" text-anchor="middle" fill="#151515" stroke="#151515" stroke-width="0.3" >10</text>
<path d="M183.8,341.5 V403.8 H328.5" fill="none" stroke="#111" stroke-width="1.4"/>
<line x1="212.8" y1="403.8" x2="212.8" y2="406.8" stroke="#111" stroke-width="1.1"/>
<text x="212.80" y="417.10" font-size="8.2" text-anchor="middle" fill="#151515" stroke="#151515" stroke-width="0.3" >5</text>
<line x1="250" y1="403.8" x2="250" y2="406.8" stroke="#111" stroke-width="1.1"/>
<text x="250.00" y="417.10" font-size="8.2" text-anchor="middle" fill="#151515" stroke="#151515" stroke-width="0.3" >7.5</text>
<line x1="287" y1="403.8" x2="287" y2="406.8" stroke="#111" stroke-width="1.1"/>
<text x="287.00" y="417.10" font-size="8.2" text-anchor="middle" fill="#151515" stroke="#151515" stroke-width="0.3" >10</text>
<line x1="324.3" y1="403.8" x2="324.3" y2="406.8" stroke="#111" stroke-width="1.1"/>
<text x="324.30" y="417.10" font-size="8.2" text-anchor="middle" fill="#151515" stroke="#151515" stroke-width="0.3" >12.5</text>
<path d="M338.4,341.5 V403.8 H488.5" fill="none" stroke="#111" stroke-width="1.4"/>
<line x1="374.7" y1="403.8" x2="374.7" y2="406.8" stroke="#111" stroke-width="1.1"/>
<text x="374.70" y="417.10" font-size="8.2" text-anchor="middle" fill="#151515" stroke="#151515" stroke-width="0.3" >5</text>
<line x1="411.9" y1="403.8" x2="411.9" y2="406.8" stroke="#111" stroke-width="1.1"/>
<text x="411.90" y="417.10" font-size="8.2" text-anchor="middle" fill="#151515" stroke="#151515" stroke-width="0.3" >7.5</text>
<line x1="449.2" y1="403.8" x2="449.2" y2="406.8" stroke="#111" stroke-width="1.1"/>
<text x="449.20" y="417.10" font-size="8.2" text-anchor="middle" fill="#151515" stroke="#151515" stroke-width="0.3" >10</text>
<line x1="486.4" y1="403.8" x2="486.4" y2="406.8" stroke="#111" stroke-width="1.1"/>
<text x="486.40" y="417.10" font-size="8.2" text-anchor="middle" fill="#151515" stroke="#151515" stroke-width="0.3" >12.5</text>
<text x="104.00" y="430.30" font-size="8.6" text-anchor="middle" fill="#151515" stroke="#151515" stroke-width="0.3" >Expression</text>
<text x="256.30" y="430.30" font-size="8.6" text-anchor="middle" fill="#151515" stroke="#151515" stroke-width="0.3" >Expression</text>
<text x="411.50" y="430.30" font-size="8.6" text-anchor="middle" fill="#151515" stroke="#151515" stroke-width="0.3" >Expression</text>
<text transform="translate(24.4,372.8) rotate(-90)" font-size="8.65" text-anchor="middle" fill="#151515" stroke="#151515" stroke-width="0.3">Kernel density</text>
<rect x="453.3" y="317.3" width="8" height="8" fill="#f3d3d6" stroke="#b5404e" stroke-width="1.3"/>
<text x="464.60" y="324.10" font-size="7.9" text-anchor="start" fill="#151515" stroke="#151515" stroke-width="0.3" >control</text>
<rect x="453.3" y="328.8" width="8" height="8" fill="#d8e0f2" stroke="#22386a" stroke-width="1.3"/>
<text x="464.60" y="335.60" font-size="7.9" text-anchor="start" fill="#151515" stroke="#151515" stroke-width="0.3" >DBA (RP/I)</text>
<rect x="453.3" y="340.5" width="8" height="8" fill="#d8edd0" stroke="#6ea850" stroke-width="1.3"/>
<text x="464.60" y="347.30" font-size="7.9" text-anchor="start" fill="#151515" stroke="#151515" stroke-width="0.3" >DBA (GATA1)</text>
<text x="7.50" y="458.70" font-size="11" text-anchor="start" font-weight="bold" fill="#111" stroke="#111" stroke-width="0.3" >F</text>
<line x1="20" y1="500.0" x2="410" y2="500.0" stroke="#8a8a8a" stroke-width="1"/>
<line x1="20" y1="536.4" x2="410" y2="536.4" stroke="#8a8a8a" stroke-width="1"/>
<line x1="20" y1="572.7" x2="410" y2="572.7" stroke="#8a8a8a" stroke-width="1"/>
<line x1="20" y1="608.8" x2="410" y2="608.8" stroke="#8a8a8a" stroke-width="1"/>
<line x1="20" y1="645.0" x2="410" y2="645.0" stroke="#8a8a8a" stroke-width="1"/>
<line x1="145.6" y1="461.7" x2="145.6" y2="672.8" stroke="#8a8a8a" stroke-width="1"/>
<line x1="274.6" y1="461.7" x2="274.6" y2="672.8" stroke="#8a8a8a" stroke-width="1"/>
<text x="139.30" y="484.30" font-size="9.85" text-anchor="end" fill="#151515" stroke="#151515" stroke-width="0.3" >erythroid maturity</text>
<text x="139.30" y="520.80" font-size="9.85" text-anchor="end" fill="#151515" stroke="#151515" stroke-width="0.3" >heme biosynthesis</text>
<text x="139.30" y="557.80" font-size="9.85" text-anchor="end" fill="#151515" stroke="#151515" stroke-width="0.3" >ribosome biogenesis</text>
<text x="139.30" y="593.90" font-size="10.05" text-anchor="end" fill="#151515" stroke="#151515" stroke-width="0.3" >GATA1 target genes (exp.)</text>
<text x="139.30" y="630.50" font-size="10.05" text-anchor="end" fill="#151515" stroke="#151515" stroke-width="0.3" >GATA1 target genes (cur.)</text>
<text x="210.0" y="473.8" font-size="8.2" text-anchor="middle" fill="#151515" stroke="#151515" stroke-width="0.3"><tspan fill="#151515" stroke="#151515">NES=1.74</tspan>, p=0.0003</text>
<text x="210.0" y="510.1" font-size="8.2" text-anchor="middle" fill="#151515" stroke="#151515" stroke-width="0.3"><tspan fill="#151515" stroke="#151515">NES=1.97</tspan>, p=0.0003</text>
<text x="209.8" y="546.6" font-size="8.2" text-anchor="middle" fill="#151515" stroke="#151515" stroke-width="0.3"><tspan fill="#a3304f" stroke="#a3304f">NES=-1.71</tspan>, p=0.0002</text>
<text x="210.0" y="582.6" font-size="8.2" text-anchor="middle" fill="#151515" stroke="#151515" stroke-width="0.3"><tspan fill="#151515" stroke="#151515">NES=1.06</tspan>, p=0.29</text>
<text x="210.0" y="618.6" font-size="8.2" text-anchor="middle" fill="#151515" stroke="#151515" stroke-width="0.3"><tspan fill="#151515" stroke="#151515">NES=2.35</tspan>, p=0.0003</text>
<text x="342.2" y="473.8" font-size="8.2" text-anchor="middle" fill="#151515" stroke="#151515" stroke-width="0.3"><tspan fill="#151515" stroke="#151515">NES=3.73</tspan>, p=0.002</text>
<text x="342.1" y="510.1" font-size="8.2" text-anchor="middle" fill="#151515" stroke="#151515" stroke-width="0.3"><tspan fill="#151515" stroke="#151515">NES=3.40</tspan>, p=0.002</text>
<text x="341.7" y="546.6" font-size="8.2" text-anchor="middle" fill="#151515" stroke="#151515" stroke-width="0.3"><tspan fill="#a3304f" stroke="#a3304f">NES=-2.09</tspan>, p=0.0001</text>
<text x="346.4" y="582.6" font-size="8.2" text-anchor="middle" fill="#151515" stroke="#151515" stroke-width="0.3"><tspan fill="#151515" stroke="#151515">NES=2.26</tspan>, p=0.002</text>
<text x="340.8" y="618.6" font-size="8.2" text-anchor="middle" fill="#151515" stroke="#151515" stroke-width="0.3"><tspan fill="#151515" stroke="#151515">NES=1.90</tspan>, p=0.001</text>
<rect x="152.50" y="469.20" width="1.1" height="13.30" fill="#263f73"/>
<path d="M152.50,482.50 L152.50,473.70 L152.50,474.00 L153.31,474.54 L154.12,475.03 L154.93,475.45 L155.73,475.82 L156.54,476.15 L157.35,476.45 L158.16,476.70 L158.97,476.93 L159.77,477.13 L160.58,477.31 L161.39,477.46 L162.20,477.60 L162.20,482.50 Z" fill="#263f73"/>
<rect x="163.20" y="478.00" width="2.70" height="4.50" fill="#263f73"/>
<rect x="166.60" y="478.00" width="2.30" height="4.50" fill="#263f73"/>
<rect x="169.50" y="478.00" width="1.70" height="4.50" fill="#263f73"/>
<rect x="171.80" y="478.00" width="1.20" height="4.50" fill="#263f73"/>
<rect x="173.60" y="478.00" width="1.20" height="4.50" fill="#263f73"/>
<rect x="175.40" y="478.00" width="2.90" height="4.50" fill="#263f73"/>
<rect x="178.80" y="478.00" width="3.50" height="4.50" fill="#263f73"/>
<rect x="182.90" y="478.00" width="2.30" height="4.50" fill="#263f73"/>
<rect x="188.00" y="480.60" width="3.00" height="2.50" fill="#263f73"/>
<rect x="192.10" y="480.60" width="0.80" height="2.50" fill="#263f73"/>
<rect x="194.40" y="480.60" width="0.80" height="2.50" fill="#263f73"/>
<rect x="198.40" y="480.60" width="1.80" height="2.50" fill="#263f73"/>
<rect x="203.00" y="480.60" width="0.70" height="2.50" fill="#263f73"/>
<rect x="204.80" y="480.60" width="0.70" height="2.50" fill="#263f73"/>
<rect x="206.50" y="480.60" width="1.20" height="2.50" fill="#263f73"/>
<rect x="209.50" y="481.80" width="1.10" height="2.50" fill="#263f73"/>
<rect x="211.80" y="481.80" width="1.10" height="2.50" fill="#263f73"/>
<rect x="214.00" y="481.80" width="1.10" height="2.50" fill="#263f73"/>
<rect x="216.30" y="481.80" width="1.10" height="2.50" fill="#263f73"/>
<rect x="218.20" y="481.80" width="1.10" height="2.50" fill="#263f73"/>
<rect x="220.40" y="481.80" width="1.10" height="2.50" fill="#263f73"/>
<rect x="222.60" y="481.80" width="1.10" height="2.50" fill="#263f73"/>
<rect x="224.50" y="481.80" width="1.10" height="2.50" fill="#263f73"/>
<rect x="226.40" y="481.80" width="1.10" height="2.50" fill="#263f73"/>
<rect x="228.50" y="482.00" width="1.10" height="4.80" fill="#263f73"/>
<rect x="230.60" y="482.00" width="1.40" height="4.80" fill="#263f73"/>
<rect x="236.60" y="482.00" width="2.40" height="4.80" fill="#263f73"/>
<rect x="241.20" y="482.00" width="1.30" height="4.80" fill="#263f73"/>
<rect x="243.30" y="482.00" width="1.90" height="4.80" fill="#263f73"/>
<rect x="245.80" y="482.00" width="1.20" height="4.80" fill="#263f73"/>
<rect x="248.00" y="482.00" width="1.60" height="4.80" fill="#263f73"/>
<rect x="250.20" y="482.00" width="2.60" height="4.80" fill="#263f73"/>
<path d="M254.8,482.0 L266.9,482.0 L266.9,488.3 L254.8,486.8 Z" fill="#263f73"/>
<rect x="265.80" y="482.0" width="1.1" height="12.50" fill="#263f73"/>
<rect x="259.6" y="482" width="0.6" height="6" fill="#6d7fa6"/><rect x="262.8" y="482" width="0.5" height="6" fill="#6d7fa6"/>
<rect x="152.30" y="504.30" width="1.1" height="14.50" fill="#263f73"/>
<path d="M152.30,518.80 L152.30,510.70 L152.30,511.00 L154.33,512.12 L156.35,512.98 L158.38,513.64 L160.40,514.15 L162.43,514.53 L164.45,514.83 L166.47,515.05 L168.50,515.23 L170.53,515.36 L172.55,515.46 L174.57,515.54 L176.60,515.60 L176.60,518.80 Z" fill="#263f73"/>
<rect x="155.3" y="510" width="0.6" height="9" fill="#fff" fill-opacity="0.6"/><rect x="160.5" y="510" width="0.6" height="9" fill="#fff" fill-opacity="0.6"/><rect x="170.2" y="510" width="0.6" height="9" fill="#fff" fill-opacity="0.6"/>
<rect x="177.70" y="516.00" width="1.60" height="2.80" fill="#263f73"/>
<rect x="179.80" y="516.00" width="1.40" height="2.80" fill="#263f73"/>
<rect x="182.30" y="516.00" width="2.20" height="2.80" fill="#263f73"/>
<rect x="185.00" y="516.00" width="2.00" height="2.80" fill="#263f73"/>
<rect x="188.00" y="516.00" width="2.50" height="2.80" fill="#263f73"/>
<rect x="191.00" y="516.00" width="2.50" height="2.80" fill="#263f73"/>
<rect x="194.00" y="516.00" width="2.00" height="2.80" fill="#263f73"/>
<rect x="197.30" y="517.00" width="1.20" height="2.20" fill="#263f73"/>
<rect x="199.60" y="517.00" width="1.20" height="2.20" fill="#263f73"/>
<rect x="201.80" y="517.00" width="1.20" height="2.20" fill="#263f73"/>
<rect x="203.60" y="517.00" width="1.20" height="2.20" fill="#263f73"/>
<rect x="205.50" y="518.30" width="1.30" height="2.30" fill="#263f73"/>
<rect x="207.80" y="518.30" width="1.30" height="2.30" fill="#263f73"/>
<rect x="210.00" y="518.30" width="1.30" height="2.30" fill="#263f73"/>
<rect x="212.00" y="518.30" width="1.30" height="2.30" fill="#263f73"/>
<rect x="214.00" y="518.30" width="1.30" height="2.30" fill="#263f73"/>
<rect x="216.00" y="518.30" width="1.30" height="2.30" fill="#263f73"/>
<rect x="218.00" y="518.30" width="1.30" height="2.30" fill="#263f73"/>
<rect x="220.00" y="518.30" width="1.30" height="2.30" fill="#263f73"/>
<rect x="222.20" y="518.30" width="1.30" height="2.30" fill="#263f73"/>
<rect x="224.50" y="518.30" width="1.30" height="2.30" fill="#263f73"/>
<rect x="226.80" y="518.30" width="1.30" height="2.30" fill="#263f73"/>
<rect x="230.80" y="518.60" width="1.50" height="2.40" fill="#263f73"/>
<rect x="233.00" y="518.60" width="1.30" height="2.71" fill="#263f73"/>
<rect x="235.50" y="518.60" width="1.50" height="3.07" fill="#263f73"/>
<rect x="237.60" y="518.60" width="1.90" height="3.37" fill="#263f73"/>
<rect x="240.00" y="518.60" width="1.50" height="3.71" fill="#263f73"/>
<rect x="242.20" y="518.60" width="2.50" height="4.03" fill="#263f73"/>
<rect x="245.80" y="518.60" width="2.00" height="4.54" fill="#263f73"/>
<rect x="248.30" y="518.60" width="2.20" height="4.90" fill="#263f73"/>
<rect x="251.00" y="518.60" width="2.00" height="5.29" fill="#263f73"/>
<rect x="253.60" y="518.60" width="2.40" height="5.66" fill="#263f73"/>
<rect x="256.60" y="518.60" width="1.90" height="6.09" fill="#263f73"/>
<rect x="260.80" y="518.60" width="1.20" height="6.69" fill="#263f73"/>
<rect x="262.60" y="518.60" width="1.20" height="6.94" fill="#263f73"/>
<rect x="264.40" y="518.60" width="1.10" height="7.20" fill="#263f73"/>
<rect x="265.80" y="518.60" width="1.00" height="8.40" fill="#263f73"/>
<rect x="155.80" y="548.60" width="1.00" height="6.50" fill="#263f73"/>
<rect x="157.35" y="548.69" width="1.00" height="6.41" fill="#263f73"/>
<rect x="158.90" y="548.78" width="1.00" height="6.32" fill="#263f73"/>
<rect x="160.45" y="548.87" width="1.00" height="6.23" fill="#263f73"/>
<rect x="162.00" y="548.96" width="1.00" height="6.14" fill="#263f73"/>
<rect x="163.55" y="549.05" width="1.00" height="6.05" fill="#263f73"/>
<rect x="165.10" y="549.14" width="1.00" height="5.96" fill="#263f73"/>
<rect x="166.65" y="549.23" width="1.00" height="5.87" fill="#263f73"/>
<rect x="168.20" y="549.32" width="1.00" height="5.78" fill="#263f73"/>
<rect x="169.75" y="549.40" width="1.00" height="5.70" fill="#263f73"/>
<rect x="171.30" y="549.49" width="1.00" height="5.61" fill="#263f73"/>
<rect x="172.85" y="549.58" width="1.00" height="5.52" fill="#263f73"/>
<rect x="174.40" y="549.67" width="1.00" height="5.43" fill="#263f73"/>
<rect x="175.95" y="549.76" width="1.00" height="5.34" fill="#263f73"/>
<rect x="177.50" y="549.85" width="1.00" height="5.25" fill="#263f73"/>
<rect x="179.05" y="549.94" width="1.00" height="5.16" fill="#263f73"/>
<rect x="180.60" y="550.03" width="1.00" height="5.07" fill="#263f73"/>
<rect x="182.15" y="550.12" width="1.00" height="4.98" fill="#263f73"/>
<rect x="183.70" y="550.21" width="1.00" height="4.89" fill="#263f73"/>
<rect x="185.25" y="550.30" width="1.00" height="4.80" fill="#263f73"/>
<rect x="186.80" y="550.39" width="0.60" height="4.71" fill="#263f73"/>
<rect x="188.00" y="551.80" width="1.30" height="3.30" fill="#263f73"/>
<rect x="190.30" y="551.80" width="1.30" height="3.30" fill="#263f73"/>
<rect x="192.60" y="551.80" width="1.30" height="3.30" fill="#263f73"/>
<rect x="194.80" y="551.80" width="1.30" height="3.30" fill="#263f73"/>
<rect x="197.00" y="551.80" width="1.30" height="3.30" fill="#263f73"/>
<rect x="199.00" y="551.80" width="1.30" height="3.30" fill="#263f73"/>
<rect x="201.50" y="553.90" width="1.40" height="2.30" fill="#263f73"/>
<rect x="204.00" y="553.90" width="1.40" height="2.30" fill="#263f73"/>
<rect x="206.50" y="553.90" width="1.40" height="2.30" fill="#263f73"/>
<rect x="209.00" y="553.90" width="1.40" height="2.30" fill="#263f73"/>
<rect x="211.30" y="553.90" width="1.40" height="2.30" fill="#263f73"/>
<rect x="213.60" y="553.90" width="1.40" height="2.30" fill="#263f73"/>
<rect x="216.00" y="553.90" width="1.40" height="2.30" fill="#263f73"/>
<rect x="218.30" y="553.90" width="1.40" height="2.30" fill="#263f73"/>
<rect x="220.60" y="553.90" width="1.40" height="2.30" fill="#263f73"/>
<rect x="223.00" y="553.90" width="1.40" height="2.30" fill="#263f73"/>
<rect x="225.30" y="553.90" width="1.40" height="2.30" fill="#263f73"/>
<rect x="227.60" y="553.90" width="1.40" height="2.30" fill="#263f73"/>
<rect x="229.80" y="555.00" width="1.10" height="2.20" fill="#263f73"/>
<rect x="231.40" y="555.00" width="1.10" height="2.36" fill="#263f73"/>
<rect x="233.00" y="555.00" width="1.10" height="2.53" fill="#263f73"/>
<rect x="234.60" y="555.00" width="1.10" height="2.69" fill="#263f73"/>
<rect x="236.20" y="555.00" width="1.10" height="2.86" fill="#263f73"/>
<rect x="237.80" y="555.00" width="1.10" height="3.02" fill="#263f73"/>
<rect x="239.40" y="555.00" width="1.10" height="3.19" fill="#263f73"/>
<path d="M240.5,555.0 L265.8,555.0 L265.8,562.8 L240.5,558.3 Z" fill="#263f73"/>
<rect x="247" y="555" width="0.6" height="5" fill="#fff" fill-opacity="0.5"/><rect x="255" y="555" width="0.6" height="6" fill="#fff" fill-opacity="0.5"/>
<rect x="152.30" y="576.80" width="1.1" height="14.00" fill="#263f73"/>
<path d="M152.30,590.80 L152.30,583.70 L152.30,584.00 L153.19,584.43 L154.08,584.81 L154.98,585.13 L155.87,585.41 L156.76,585.64 L157.65,585.85 L158.54,586.02 L159.43,586.18 L160.32,586.31 L161.22,586.42 L162.11,586.52 L163.00,586.60 L163.00,590.80 Z" fill="#263f73"/>
<rect x="163.90" y="586.70" width="2.60" height="4.10" fill="#263f73"/>
<rect x="167.00" y="586.70" width="2.60" height="4.10" fill="#263f73"/>
<rect x="171.90" y="586.70" width="2.40" height="4.10" fill="#263f73"/>
<rect x="174.80" y="586.70" width="2.70" height="4.10" fill="#263f73"/>
<rect x="178.00" y="586.70" width="2.00" height="4.10" fill="#263f73"/>
<rect x="183.50" y="588.60" width="1.30" height="2.60" fill="#263f73"/>
<rect x="186.00" y="588.60" width="1.30" height="2.60" fill="#263f73"/>
<rect x="188.50" y="588.60" width="1.30" height="2.60" fill="#263f73"/>
<rect x="191.00" y="588.60" width="1.30" height="2.60" fill="#263f73"/>
<rect x="193.50" y="588.60" width="1.30" height="2.60" fill="#263f73"/>
<rect x="200.20" y="589.80" width="0.90" height="1.80" fill="#263f73"/>
<rect x="203.30" y="589.80" width="0.90" height="1.80" fill="#263f73"/>
<rect x="205.80" y="589.80" width="0.90" height="1.80" fill="#263f73"/>
<rect x="207.70" y="590.00" width="1.60" height="2.60" fill="#263f73"/>
<rect x="210.00" y="590.00" width="1.60" height="2.60" fill="#263f73"/>
<rect x="212.20" y="590.00" width="1.60" height="2.60" fill="#263f73"/>
<rect x="214.50" y="590.00" width="1.60" height="2.60" fill="#263f73"/>
<rect x="216.70" y="590.00" width="1.60" height="2.60" fill="#263f73"/>
<rect x="219.00" y="590.00" width="1.60" height="2.60" fill="#263f73"/>
<rect x="221.30" y="590.00" width="1.60" height="2.60" fill="#263f73"/>
<rect x="223.60" y="590.00" width="1.60" height="2.60" fill="#263f73"/>
<rect x="226.20" y="590.60" width="2.30" height="2.60" fill="#263f73"/>
<rect x="229.00" y="590.60" width="2.50" height="2.87" fill="#263f73"/>
<rect x="232.00" y="590.60" width="2.60" height="3.15" fill="#263f73"/>
<rect x="235.20" y="590.60" width="2.40" height="3.45" fill="#263f73"/>
<rect x="238.20" y="590.60" width="2.60" height="3.74" fill="#263f73"/>
<rect x="241.40" y="590.60" width="2.10" height="4.04" fill="#263f73"/>
<rect x="244.00" y="590.60" width="2.30" height="4.29" fill="#263f73"/>
<rect x="247.00" y="590.60" width="2.50" height="4.57" fill="#263f73"/>
<rect x="250.00" y="590.60" width="2.40" height="4.85" fill="#263f73"/>
<rect x="253.00" y="590.60" width="2.40" height="5.14" fill="#263f73"/>
<rect x="256.00" y="590.60" width="2.60" height="5.42" fill="#263f73"/>
<rect x="259.20" y="590.60" width="2.10" height="5.73" fill="#263f73"/>
<rect x="261.80" y="590.60" width="2.20" height="5.97" fill="#263f73"/>
<rect x="264.70" y="590.60" width="1.80" height="8.40" fill="#263f73"/>
<rect x="152.3" y="613.5" width="1.1" height="13.5" fill="#263f73"/>
<rect x="153.90" y="617.50" width="0.95" height="9.50" fill="#263f73"/>
<rect x="155.40" y="618.00" width="0.95" height="9.00" fill="#263f73"/>
<rect x="156.90" y="618.50" width="0.95" height="8.50" fill="#263f73"/>
<rect x="158.40" y="619.00" width="0.95" height="8.00" fill="#263f73"/>
<rect x="159.90" y="619.50" width="0.95" height="7.50" fill="#263f73"/>
<rect x="161.40" y="620.00" width="0.95" height="7.00" fill="#263f73"/>
<rect x="162.90" y="620.50" width="0.95" height="6.50" fill="#263f73"/>
<rect x="164.40" y="621.00" width="0.95" height="6.00" fill="#263f73"/>
<rect x="165.90" y="621.50" width="0.95" height="5.50" fill="#263f73"/>
<rect x="167.40" y="622.00" width="0.95" height="5.00" fill="#263f73"/>
<rect x="169.10" y="622.50" width="0.95" height="4.50" fill="#263f73"/>
<rect x="177.70" y="624.40" width="1.10" height="2.60" fill="#263f73"/>
<rect x="179.40" y="624.40" width="1.10" height="2.60" fill="#263f73"/>
<rect x="181.10" y="624.40" width="1.10" height="2.60" fill="#263f73"/>
<rect x="189.30" y="625.80" width="1.00" height="2.00" fill="#263f73"/>
<rect x="193.00" y="625.80" width="1.00" height="2.00" fill="#263f73"/>
<rect x="197.00" y="625.80" width="1.00" height="2.00" fill="#263f73"/>
<rect x="204.30" y="625.80" width="1.00" height="2.00" fill="#263f73"/>
<rect x="208.00" y="625.80" width="1.00" height="2.00" fill="#263f73"/>
<rect x="212.00" y="625.80" width="1.00" height="2.00" fill="#263f73"/>
<rect x="216.60" y="625.30" width="1.40" height="2.90" fill="#263f73"/>
<rect x="230.80" y="627.00" width="1.00" height="6.00" fill="#263f73"/>
<rect x="233.20" y="627.00" width="1.00" height="6.00" fill="#263f73"/>
<rect x="238.90" y="627.00" width="1.00" height="6.00" fill="#263f73"/>
<rect x="241.00" y="627.00" width="1.00" height="6.00" fill="#263f73"/>
<rect x="243.20" y="627.00" width="1.00" height="6.00" fill="#263f73"/>
<rect x="245.30" y="627.00" width="1.00" height="6.00" fill="#263f73"/>
<rect x="247.40" y="627.00" width="1.00" height="6.00" fill="#263f73"/>
<rect x="249.60" y="627.00" width="1.00" height="6.00" fill="#263f73"/>
<rect x="251.60" y="627.00" width="1.00" height="6.00" fill="#263f73"/>
<rect x="256.20" y="627.00" width="1.00" height="6.00" fill="#263f73"/>
<rect x="260.40" y="627.00" width="1.00" height="6.00" fill="#263f73"/>
<rect x="285.40" y="465.40" width="1.1" height="16.60" fill="#263f73"/>
<path d="M285.40,482.00 L285.40,472.40 L285.40,472.70 L286.16,473.52 L286.92,474.21 L287.67,474.79 L288.43,475.29 L289.19,475.71 L289.95,476.06 L290.71,476.36 L291.47,476.62 L292.23,476.83 L292.98,477.02 L293.74,477.17 L294.50,477.30 L294.50,482.00 Z" fill="#263f73"/>
<rect x="295.20" y="478.50" width="2.00" height="3.50" fill="#263f73"/>
<rect x="285.40" y="504.20" width="1.1" height="14.80" fill="#263f73"/>
<path d="M285.40,519.00 L285.40,510.20 L285.40,510.50 L286.41,511.48 L287.42,512.22 L288.42,512.80 L289.43,513.23 L290.44,513.57 L291.45,513.83 L292.46,514.03 L293.47,514.18 L294.48,514.29 L295.48,514.38 L296.49,514.45 L297.50,514.50 L297.50,519.00 Z" fill="#263f73"/>
<rect x="298.00" y="515.20" width="1.20" height="3.80" fill="#263f73"/>
<rect x="300.00" y="515.55" width="1.20" height="3.45" fill="#263f73"/>
<rect x="302.20" y="515.90" width="1.20" height="3.10" fill="#263f73"/>
<rect x="304.50" y="516.25" width="1.20" height="2.75" fill="#263f73"/>
<rect x="306.80" y="516.60" width="1.20" height="2.40" fill="#263f73"/>
<rect x="309.20" y="516.95" width="1.20" height="2.05" fill="#263f73"/>
<rect x="312.20" y="517.30" width="1.20" height="1.70" fill="#263f73"/>
<rect x="320.00" y="517.50" width="1.20" height="1.80" fill="#263f73"/>
<rect x="322.20" y="517.50" width="1.20" height="1.80" fill="#263f73"/>
<rect x="324.40" y="517.50" width="1.20" height="1.80" fill="#263f73"/>
<rect x="333.10" y="517.80" width="0.90" height="2.00" fill="#263f73"/>
<rect x="337.70" y="517.80" width="0.90" height="2.00" fill="#263f73"/>
<rect x="342.40" y="517.80" width="0.90" height="2.00" fill="#263f73"/>
<rect x="347.00" y="517.80" width="0.90" height="2.00" fill="#263f73"/>
<rect x="352.50" y="517.00" width="1.00" height="3.30" fill="#263f73"/>
<rect x="358.30" y="517.00" width="1.10" height="4.00" fill="#263f73"/>
<rect x="367.60" y="518.00" width="1.10" height="5.20" fill="#263f73"/>
<rect x="371.00" y="518.00" width="1.10" height="5.20" fill="#263f73"/>
<rect x="373.40" y="518.00" width="1.10" height="5.20" fill="#263f73"/>
<rect x="390.50" y="518.00" width="1.10" height="7.80" fill="#263f73"/>
<rect x="285.10" y="545.00" width="1.20" height="10.10" fill="#263f73"/>
<rect x="287.50" y="547.80" width="1.00" height="7.30" fill="#263f73"/>
<rect x="289.00" y="548.14" width="1.00" height="6.96" fill="#263f73"/>
<rect x="290.50" y="548.47" width="1.00" height="6.63" fill="#263f73"/>
<rect x="292.00" y="548.81" width="1.00" height="6.29" fill="#263f73"/>
<rect x="293.50" y="549.14" width="1.00" height="5.96" fill="#263f73"/>
<rect x="295.00" y="549.48" width="1.00" height="5.62" fill="#263f73"/>
<rect x="296.50" y="549.82" width="1.00" height="5.28" fill="#263f73"/>
<rect x="298.00" y="550.15" width="1.00" height="4.95" fill="#263f73"/>
<rect x="299.50" y="550.49" width="0.60" height="4.61" fill="#263f73"/>
<rect x="300.50" y="551.20" width="1.30" height="3.90" fill="#263f73"/>
<rect x="302.70" y="551.44" width="1.30" height="3.66" fill="#263f73"/>
<rect x="304.90" y="551.69" width="1.30" height="3.41" fill="#263f73"/>
<rect x="307.10" y="551.93" width="1.30" height="3.17" fill="#263f73"/>
<rect x="309.30" y="552.17" width="1.30" height="2.93" fill="#263f73"/>
<rect x="311.50" y="552.41" width="1.30" height="2.69" fill="#263f73"/>
<rect x="313.70" y="552.66" width="1.30" height="2.44" fill="#263f73"/>
<rect x="318.00" y="553.50" width="1.30" height="2.30" fill="#263f73"/>
<rect x="320.40" y="553.50" width="1.30" height="2.30" fill="#263f73"/>
<rect x="322.80" y="553.50" width="1.30" height="2.30" fill="#263f73"/>
<rect x="325.20" y="553.50" width="1.30" height="2.30" fill="#263f73"/>
<rect x="327.60" y="553.50" width="1.30" height="2.30" fill="#263f73"/>
<rect x="335.00" y="554.50" width="1.50" height="2.10" fill="#263f73"/>
<rect x="337.50" y="554.50" width="1.50" height="2.10" fill="#263f73"/>
<rect x="340.00" y="554.50" width="1.50" height="2.10" fill="#263f73"/>
<rect x="342.50" y="554.50" width="1.50" height="2.10" fill="#263f73"/>
<rect x="345.00" y="554.50" width="1.50" height="2.10" fill="#263f73"/>
<rect x="347.50" y="554.50" width="1.50" height="2.10" fill="#263f73"/>
<rect x="350.00" y="554.50" width="1.50" height="2.10" fill="#263f73"/>
<rect x="352.50" y="554.50" width="1.50" height="2.10" fill="#263f73"/>
<rect x="355.00" y="554.50" width="1.50" height="2.10" fill="#263f73"/>
<rect x="357.50" y="554.50" width="1.50" height="2.10" fill="#263f73"/>
<rect x="360.00" y="555.00" width="1.30" height="2.30" fill="#263f73"/>
<rect x="361.80" y="555.00" width="1.30" height="2.55" fill="#263f73"/>
<rect x="363.60" y="555.00" width="1.30" height="2.80" fill="#263f73"/>
<rect x="365.40" y="555.00" width="1.30" height="3.05" fill="#263f73"/>
<rect x="367.20" y="555.00" width="1.30" height="3.30" fill="#263f73"/>
<rect x="369.00" y="555.00" width="1.30" height="3.55" fill="#263f73"/>
<rect x="370.80" y="555.00" width="1.30" height="3.80" fill="#263f73"/>
<rect x="372.60" y="555.00" width="1.30" height="4.05" fill="#263f73"/>
<rect x="374.40" y="555.00" width="1.30" height="4.30" fill="#263f73"/>
<rect x="376.20" y="555.00" width="1.30" height="4.55" fill="#263f73"/>
<path d="M378.2,555.0 L399.6,555.0 L399.6,565.2 L378.2,559.0 Z" fill="#263f73"/>
<rect x="383" y="555" width="0.6" height="5" fill="#fff" fill-opacity="0.5"/><rect x="388.5" y="555" width="0.6" height="6" fill="#fff" fill-opacity="0.5"/>
<rect x="285.10" y="577.50" width="1.1" height="13.50" fill="#263f73"/>
<path d="M285.10,591.00 L285.10,583.70 L285.10,584.00 L286.51,585.10 L287.92,585.94 L289.33,586.58 L290.73,587.08 L292.14,587.45 L293.55,587.74 L294.96,587.97 L296.37,588.14 L297.77,588.27 L299.18,588.37 L300.59,588.44 L302.00,588.50 L302.00,591.00 Z" fill="#263f73"/>
<rect x="302.30" y="588.40" width="1.30" height="2.60" fill="#263f73"/>
<rect x="304.20" y="588.49" width="1.30" height="2.51" fill="#263f73"/>
<rect x="306.10" y="588.57" width="1.30" height="2.43" fill="#263f73"/>
<rect x="308.00" y="588.66" width="1.30" height="2.34" fill="#263f73"/>
<rect x="309.90" y="588.74" width="1.30" height="2.26" fill="#263f73"/>
<rect x="311.80" y="588.83" width="1.30" height="2.17" fill="#263f73"/>
<rect x="313.70" y="588.92" width="1.30" height="2.08" fill="#263f73"/>
<rect x="315.60" y="589.00" width="1.30" height="2.00" fill="#263f73"/>
<rect x="317.50" y="589.09" width="1.30" height="1.91" fill="#263f73"/>
<rect x="319.40" y="589.17" width="0.60" height="1.83" fill="#263f73"/>
<rect x="321.00" y="589.60" width="1.30" height="2.00" fill="#263f73"/>
<rect x="323.30" y="589.60" width="1.30" height="2.00" fill="#263f73"/>
<rect x="325.60" y="589.60" width="1.30" height="2.00" fill="#263f73"/>
<rect x="327.90" y="589.60" width="1.30" height="2.00" fill="#263f73"/>
<rect x="330.20" y="589.60" width="1.30" height="2.00" fill="#263f73"/>
<rect x="332.50" y="589.60" width="1.30" height="2.00" fill="#263f73"/>
<rect x="339.80" y="590.20" width="1.00" height="2.00" fill="#263f73"/>
<rect x="345.80" y="590.20" width="2.00" height="3.00" fill="#263f73"/>
<rect x="348.40" y="590.20" width="2.20" height="3.00" fill="#263f73"/>
<rect x="351.20" y="590.20" width="2.40" height="3.00" fill="#263f73"/>
<rect x="354.20" y="590.20" width="2.30" height="3.00" fill="#263f73"/>
<rect x="357.00" y="590.20" width="2.70" height="3.00" fill="#263f73"/>
<rect x="360.50" y="590.60" width="2.30" height="4.40" fill="#263f73"/>
<rect x="363.40" y="590.60" width="2.20" height="4.40" fill="#263f73"/>
<rect x="366.20" y="590.60" width="2.40" height="4.40" fill="#263f73"/>
<rect x="369.20" y="590.60" width="2.40" height="4.40" fill="#263f73"/>
<rect x="372.20" y="590.60" width="2.80" height="4.40" fill="#263f73"/>
<rect x="376.00" y="590.60" width="2.00" height="6.40" fill="#263f73"/>
<rect x="379.00" y="590.60" width="1.50" height="6.40" fill="#263f73"/>
<rect x="381.50" y="590.60" width="2.00" height="6.40" fill="#263f73"/>
<rect x="385.00" y="590.60" width="1.20" height="6.40" fill="#263f73"/>
<rect x="387.20" y="590.60" width="1.40" height="6.40" fill="#263f73"/>
<rect x="390.00" y="590.60" width="1.50" height="6.40" fill="#263f73"/>
<rect x="393.00" y="590.60" width="1.50" height="6.40" fill="#263f73"/>
<rect x="398.30" y="590.80" width="1.10" height="12.70" fill="#263f73"/>
<rect x="285.10" y="614.60" width="1.1" height="12.40" fill="#263f73"/>
<path d="M285.10,627.00 L285.10,618.70 L285.10,619.00 L285.72,619.98 L286.33,620.72 L286.95,621.30 L287.57,621.73 L288.18,622.07 L288.80,622.33 L289.42,622.53 L290.03,622.68 L290.65,622.79 L291.27,622.88 L291.88,622.95 L292.50,623.00 L292.50,627.00 Z" fill="#263f73"/>
<rect x="294.00" y="622.20" width="1.10" height="4.80" fill="#263f73"/>
<rect x="296.50" y="622.70" width="1.10" height="4.30" fill="#263f73"/>
<rect x="299.00" y="623.20" width="1.10" height="3.80" fill="#263f73"/>
<rect x="302.00" y="623.70" width="1.10" height="3.30" fill="#263f73"/>
<rect x="305.50" y="624.20" width="1.10" height="2.80" fill="#263f73"/>
<rect x="309.00" y="624.70" width="1.10" height="2.30" fill="#263f73"/>
<rect x="313.00" y="625.20" width="1.10" height="1.80" fill="#263f73"/>
<rect x="316.00" y="625.70" width="1.10" height="1.30" fill="#263f73"/>
<rect x="320.00" y="626.00" width="0.90" height="2.00" fill="#263f73"/>
<rect x="324.00" y="626.00" width="0.90" height="2.00" fill="#263f73"/>
<rect x="328.00" y="626.00" width="0.90" height="2.00" fill="#263f73"/>
<rect x="332.00" y="626.00" width="0.90" height="2.00" fill="#263f73"/>
<rect x="336.00" y="626.00" width="0.90" height="2.00" fill="#263f73"/>
<rect x="341.00" y="624.20" width="1.00" height="3.80" fill="#263f73"/>
<rect x="345.00" y="624.20" width="1.00" height="3.80" fill="#263f73"/>
<rect x="350.00" y="624.20" width="1.00" height="3.80" fill="#263f73"/>
<rect x="354.00" y="624.20" width="1.00" height="3.80" fill="#263f73"/>
<rect x="371.20" y="627.00" width="1.20" height="5.20" fill="#263f73"/>
<rect x="373.50" y="627.00" width="1.20" height="5.20" fill="#263f73"/>
<rect x="375.80" y="627.00" width="1.20" height="5.20" fill="#263f73"/>
<rect x="378.00" y="627.00" width="1.20" height="5.20" fill="#263f73"/>
<rect x="379.40" y="627.00" width="1.20" height="7.00" fill="#263f73"/>
<rect x="388.30" y="627.00" width="1.20" height="8.00" fill="#263f73"/>
<rect x="394.60" y="627.00" width="1.10" height="11.00" fill="#263f73"/>
<rect x="396.40" y="627.00" width="1.10" height="11.00" fill="#263f73"/>
<rect x="398.40" y="627.00" width="1.10" height="11.00" fill="#263f73"/>
<text x="151.30" y="655.10" font-size="8.25" text-anchor="start" font-weight="bold" fill="#34497c" stroke="#34497c" stroke-width="0.3" >DBA (RP/I)</text>
<text x="282.50" y="655.10" font-size="8.25" text-anchor="start" font-weight="bold" fill="#34497c" stroke="#34497c" stroke-width="0.3" >DBA (RP/I)</text>
<text x="268.40" y="655.10" font-size="8.25" text-anchor="end" font-weight="bold" fill="#8e2442" stroke="#8e2442" stroke-width="0.3" >Control</text>
<text x="399.40" y="655.10" font-size="8.25" text-anchor="end" font-weight="bold" fill="#8e2442" stroke="#8e2442" stroke-width="0.3" >Control</text>
<line x1="203.0" y1="652" x2="229.7" y2="652" stroke="#111" stroke-width="1.5" marker-start="url(#ah)" marker-end="url(#ah)"/>
<line x1="333.4" y1="652" x2="360.7" y2="652" stroke="#111" stroke-width="1.5" marker-start="url(#ah)" marker-end="url(#ah)"/>
<text x="215.40" y="670.40" font-size="9.8" text-anchor="middle" fill="#151515" stroke="#151515" stroke-width="0.3" >O’Brien et al.</text>
<text x="347.00" y="670.20" font-size="9.8" text-anchor="middle" fill="#151515" stroke="#151515" stroke-width="0.3" >synthetic normal</text>
</svg>
</body></html>
